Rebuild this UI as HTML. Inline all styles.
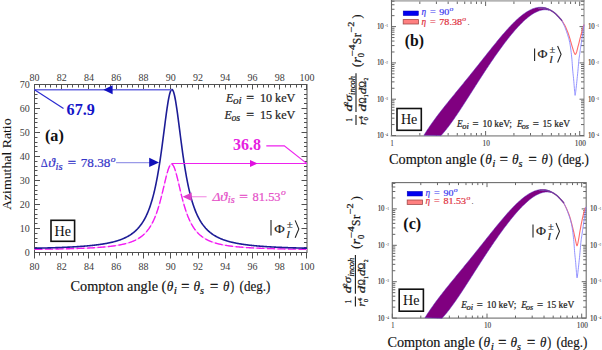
<!DOCTYPE html>
<html><head><meta charset="utf-8"><style>html,body{margin:0;padding:0;background:#fff;}svg{display:block}</style></head>
<body><svg width="602" height="350" viewBox="0 0 602 350">
<rect width="602" height="350" fill="#fff"/>
<rect x="34.5" y="84.5" width="272.5" height="168.0" fill="none" stroke="#505050" stroke-width="1"/>
<path d="M34.5,84.5v5M34.5,252.5v6M39.5,84.5v3M39.5,252.5v3M45.5,84.5v3M45.5,252.5v3M50.5,84.5v3M50.5,252.5v3M56.5,84.5v3M56.5,252.5v3M61.5,84.5v5M61.5,252.5v6M67.5,84.5v3M67.5,252.5v3M72.5,84.5v3M72.5,252.5v3M78.5,84.5v3M78.5,252.5v3M83.5,84.5v3M83.5,252.5v3M88.5,84.5v5M88.5,252.5v6M94.5,84.5v3M94.5,252.5v3M99.5,84.5v3M99.5,252.5v3M105.5,84.5v3M105.5,252.5v3M110.5,84.5v3M110.5,252.5v3M116.5,84.5v5M116.5,252.5v6M121.5,84.5v3M121.5,252.5v3M127.5,84.5v3M127.5,252.5v3M132.5,84.5v3M132.5,252.5v3M138.5,84.5v3M138.5,252.5v3M143.5,84.5v5M143.5,252.5v6M148.5,84.5v3M148.5,252.5v3M154.5,84.5v3M154.5,252.5v3M159.5,84.5v3M159.5,252.5v3M165.5,84.5v3M165.5,252.5v3M170.5,84.5v5M170.5,252.5v6M176.5,84.5v3M176.5,252.5v3M181.5,84.5v3M181.5,252.5v3M187.5,84.5v3M187.5,252.5v3M192.5,84.5v3M192.5,252.5v3M198.5,84.5v5M198.5,252.5v6M203.5,84.5v3M203.5,252.5v3M208.5,84.5v3M208.5,252.5v3M214.5,84.5v3M214.5,252.5v3M219.5,84.5v3M219.5,252.5v3M225.5,84.5v5M225.5,252.5v6M230.5,84.5v3M230.5,252.5v3M236.5,84.5v3M236.5,252.5v3M241.5,84.5v3M241.5,252.5v3M247.5,84.5v3M247.5,252.5v3M252.5,84.5v5M252.5,252.5v6M257.5,84.5v3M257.5,252.5v3M263.5,84.5v3M263.5,252.5v3M268.5,84.5v3M268.5,252.5v3M274.5,84.5v3M274.5,252.5v3M279.5,84.5v5M279.5,252.5v6M285.5,84.5v3M285.5,252.5v3M290.5,84.5v3M290.5,252.5v3M296.5,84.5v3M296.5,252.5v3M301.5,84.5v3M301.5,252.5v3M306.5,84.5v5M306.5,252.5v6M34.5,252.5h5.5M307.0,252.5h-5.5M34.5,247.5h3M307.0,247.5h-3M34.5,242.5h3M307.0,242.5h-3M34.5,238.5h3M307.0,238.5h-3M34.5,233.5h3M307.0,233.5h-3M34.5,228.5h5.5M307.0,228.5h-5.5M34.5,223.5h3M307.0,223.5h-3M34.5,218.5h3M307.0,218.5h-3M34.5,214.5h3M307.0,214.5h-3M34.5,209.5h3M307.0,209.5h-3M34.5,204.5h5.5M307.0,204.5h-5.5M34.5,199.5h3M307.0,199.5h-3M34.5,194.5h3M307.0,194.5h-3M34.5,190.5h3M307.0,190.5h-3M34.5,185.5h3M307.0,185.5h-3M34.5,180.5h5.5M307.0,180.5h-5.5M34.5,175.5h3M307.0,175.5h-3M34.5,170.5h3M307.0,170.5h-3M34.5,166.5h3M307.0,166.5h-3M34.5,161.5h3M307.0,161.5h-3M34.5,156.5h5.5M307.0,156.5h-5.5M34.5,151.5h3M307.0,151.5h-3M34.5,146.5h3M307.0,146.5h-3M34.5,142.5h3M307.0,142.5h-3M34.5,137.5h3M307.0,137.5h-3M34.5,132.5h5.5M307.0,132.5h-5.5M34.5,127.5h3M307.0,127.5h-3M34.5,122.5h3M307.0,122.5h-3M34.5,118.5h3M307.0,118.5h-3M34.5,113.5h3M307.0,113.5h-3M34.5,108.5h5.5M307.0,108.5h-5.5M34.5,103.5h3M307.0,103.5h-3M34.5,98.5h3M307.0,98.5h-3M34.5,94.5h3M307.0,94.5h-3M34.5,89.5h3M307.0,89.5h-3M34.5,84.5h5.5M307.0,84.5h-5.5" stroke="#505050" stroke-width="1" fill="none"/>
<text x="34.50" y="80.90" font-family="Liberation Serif" font-size="10" fill="#3c3c3c"  text-anchor="middle">80</text>
<text x="34.50" y="270.30" font-family="Liberation Serif" font-size="10" fill="#3c3c3c"  text-anchor="middle">80</text>
<text x="61.75" y="80.90" font-family="Liberation Serif" font-size="10" fill="#3c3c3c"  text-anchor="middle">82</text>
<text x="61.75" y="270.30" font-family="Liberation Serif" font-size="10" fill="#3c3c3c"  text-anchor="middle">82</text>
<text x="89.00" y="80.90" font-family="Liberation Serif" font-size="10" fill="#3c3c3c"  text-anchor="middle">84</text>
<text x="89.00" y="270.30" font-family="Liberation Serif" font-size="10" fill="#3c3c3c"  text-anchor="middle">84</text>
<text x="116.25" y="80.90" font-family="Liberation Serif" font-size="10" fill="#3c3c3c"  text-anchor="middle">86</text>
<text x="116.25" y="270.30" font-family="Liberation Serif" font-size="10" fill="#3c3c3c"  text-anchor="middle">86</text>
<text x="143.50" y="80.90" font-family="Liberation Serif" font-size="10" fill="#3c3c3c"  text-anchor="middle">88</text>
<text x="143.50" y="270.30" font-family="Liberation Serif" font-size="10" fill="#3c3c3c"  text-anchor="middle">88</text>
<text x="170.75" y="80.90" font-family="Liberation Serif" font-size="10" fill="#3c3c3c"  text-anchor="middle">90</text>
<text x="170.75" y="270.30" font-family="Liberation Serif" font-size="10" fill="#3c3c3c"  text-anchor="middle">90</text>
<text x="198.00" y="80.90" font-family="Liberation Serif" font-size="10" fill="#3c3c3c"  text-anchor="middle">92</text>
<text x="198.00" y="270.30" font-family="Liberation Serif" font-size="10" fill="#3c3c3c"  text-anchor="middle">92</text>
<text x="225.25" y="80.90" font-family="Liberation Serif" font-size="10" fill="#3c3c3c"  text-anchor="middle">94</text>
<text x="225.25" y="270.30" font-family="Liberation Serif" font-size="10" fill="#3c3c3c"  text-anchor="middle">94</text>
<text x="252.50" y="80.90" font-family="Liberation Serif" font-size="10" fill="#3c3c3c"  text-anchor="middle">96</text>
<text x="252.50" y="270.30" font-family="Liberation Serif" font-size="10" fill="#3c3c3c"  text-anchor="middle">96</text>
<text x="279.75" y="80.90" font-family="Liberation Serif" font-size="10" fill="#3c3c3c"  text-anchor="middle">98</text>
<text x="279.75" y="270.30" font-family="Liberation Serif" font-size="10" fill="#3c3c3c"  text-anchor="middle">98</text>
<text x="307.00" y="80.90" font-family="Liberation Serif" font-size="10" fill="#3c3c3c"  text-anchor="middle">100</text>
<text x="307.00" y="270.30" font-family="Liberation Serif" font-size="10" fill="#3c3c3c"  text-anchor="middle">100</text>
<text x="29.80" y="255.90" font-family="Liberation Serif" font-size="10" fill="#3c3c3c"  text-anchor="end">0</text>
<text x="29.80" y="231.90" font-family="Liberation Serif" font-size="10" fill="#3c3c3c"  text-anchor="end">10</text>
<text x="29.80" y="207.90" font-family="Liberation Serif" font-size="10" fill="#3c3c3c"  text-anchor="end">20</text>
<text x="29.80" y="183.90" font-family="Liberation Serif" font-size="10" fill="#3c3c3c"  text-anchor="end">30</text>
<text x="29.80" y="159.90" font-family="Liberation Serif" font-size="10" fill="#3c3c3c"  text-anchor="end">40</text>
<text x="29.80" y="135.90" font-family="Liberation Serif" font-size="10" fill="#3c3c3c"  text-anchor="end">50</text>
<text x="29.80" y="111.90" font-family="Liberation Serif" font-size="10" fill="#3c3c3c"  text-anchor="end">60</text>
<text x="29.80" y="87.90" font-family="Liberation Serif" font-size="10" fill="#3c3c3c"  text-anchor="end">70</text>
<path d="M34.50,249.32 L34.89,249.32 L35.28,249.31 L35.67,249.31 L36.06,249.30 L36.45,249.30 L36.84,249.30 L37.23,249.29 L37.62,249.29 L38.01,249.28 L38.40,249.28 L38.79,249.27 L39.18,249.27 L39.57,249.26 L39.96,249.26 L40.35,249.25 L40.74,249.25 L41.13,249.24 L41.52,249.24 L41.91,249.23 L42.30,249.23 L42.69,249.22 L43.08,249.22 L43.47,249.21 L43.86,249.21 L44.25,249.20 L44.64,249.19 L45.03,249.19 L45.42,249.18 L45.81,249.18 L46.20,249.17 L46.59,249.17 L46.97,249.16 L47.36,249.16 L47.75,249.15 L48.14,249.14 L48.53,249.14 L48.92,249.13 L49.31,249.13 L49.70,249.12 L50.09,249.11 L50.48,249.11 L50.87,249.10 L51.26,249.09 L51.65,249.09 L52.04,249.08 L52.43,249.07 L52.82,249.07 L53.21,249.06 L53.60,249.05 L53.99,249.05 L54.38,249.04 L54.77,249.03 L55.16,249.03 L55.55,249.02 L55.94,249.01 L56.33,249.00 L56.72,249.00 L57.11,248.99 L57.50,248.98 L57.89,248.97 L58.28,248.97 L58.67,248.96 L59.06,248.95 L59.45,248.94 L59.84,248.94 L60.23,248.93 L60.62,248.92 L61.01,248.91 L61.40,248.90 L61.79,248.89 L62.18,248.89 L62.57,248.88 L62.96,248.87 L63.35,248.86 L63.74,248.85 L64.13,248.84 L64.52,248.83 L64.91,248.82 L65.30,248.81 L65.69,248.81 L66.08,248.80 L66.47,248.79 L66.86,248.78 L67.25,248.77 L67.64,248.76 L68.03,248.75 L68.42,248.74 L68.81,248.73 L69.20,248.72 L69.59,248.71 L69.98,248.70 L70.37,248.68 L70.76,248.67 L71.15,248.66 L71.54,248.65 L71.92,248.64 L72.31,248.63 L72.70,248.62 L73.09,248.61 L73.48,248.60 L73.87,248.58 L74.26,248.57 L74.65,248.56 L75.04,248.55 L75.43,248.53 L75.82,248.52 L76.21,248.51 L76.60,248.50 L76.99,248.48 L77.38,248.47 L77.77,248.46 L78.16,248.44 L78.55,248.43 L78.94,248.42 L79.33,248.40 L79.72,248.39 L80.11,248.37 L80.50,248.36 L80.89,248.34 L81.28,248.33 L81.67,248.31 L82.06,248.30 L82.45,248.28 L82.84,248.27 L83.23,248.25 L83.62,248.24 L84.01,248.22 L84.40,248.20 L84.79,248.19 L85.18,248.17 L85.57,248.15 L85.96,248.14 L86.35,248.12 L86.74,248.10 L87.13,248.08 L87.52,248.06 L87.91,248.05 L88.30,248.03 L88.69,248.01 L89.08,247.99 L89.47,247.97 L89.86,247.95 L90.25,247.93 L90.64,247.91 L91.03,247.89 L91.42,247.87 L91.81,247.84 L92.20,247.82 L92.59,247.80 L92.98,247.78 L93.37,247.76 L93.76,247.73 L94.15,247.71 L94.54,247.69 L94.93,247.66 L95.32,247.64 L95.71,247.61 L96.10,247.59 L96.48,247.56 L96.87,247.54 L97.26,247.51 L97.65,247.49 L98.04,247.46 L98.43,247.43 L98.82,247.40 L99.21,247.38 L99.60,247.35 L99.99,247.32 L100.38,247.29 L100.77,247.26 L101.16,247.23 L101.55,247.20 L101.94,247.16 L102.33,247.13 L102.72,247.10 L103.11,247.07 L103.50,247.03 L103.89,247.00 L104.28,246.97 L104.67,246.93 L105.06,246.89 L105.45,246.86 L105.84,246.82 L106.23,246.78 L106.62,246.74 L107.01,246.71 L107.40,246.67 L107.79,246.63 L108.18,246.58 L108.57,246.54 L108.96,246.50 L109.35,246.46 L109.74,246.41 L110.13,246.37 L110.52,246.32 L110.91,246.28 L111.30,246.23 L111.69,246.18 L112.08,246.13 L112.47,246.08 L112.86,246.03 L113.25,245.98 L113.64,245.92 L114.03,245.87 L114.42,245.82 L114.81,245.76 L115.20,245.70 L115.59,245.64 L115.98,245.58 L116.37,245.52 L116.76,245.46 L117.15,245.40 L117.54,245.34 L117.93,245.27 L118.32,245.20 L118.71,245.13 L119.10,245.06 L119.49,244.99 L119.88,244.92 L120.27,244.85 L120.66,244.77 L121.05,244.69 L121.43,244.61 L121.82,244.53 L122.21,244.45 L122.60,244.37 L122.99,244.28 L123.38,244.19 L123.77,244.10 L124.16,244.01 L124.55,243.92 L124.94,243.82 L125.33,243.72 L125.72,243.62 L126.11,243.52 L126.50,243.41 L126.89,243.31 L127.28,243.20 L127.67,243.08 L128.06,242.97 L128.45,242.85 L128.84,242.73 L129.23,242.60 L129.62,242.48 L130.01,242.34 L130.40,242.21 L130.79,242.07 L131.18,241.93 L131.57,241.79 L131.96,241.64 L132.35,241.49 L132.74,241.33 L133.13,241.17 L133.52,241.01 L133.91,240.84 L134.30,240.67 L134.69,240.49 L135.08,240.31 L135.47,240.12 L135.86,239.92 L136.25,239.73 L136.64,239.52 L137.03,239.31 L137.42,239.10 L137.81,238.87 L138.20,238.65 L138.59,238.41 L138.98,238.17 L139.37,237.92 L139.76,237.66 L140.15,237.40 L140.54,237.13 L140.93,236.85 L141.32,236.56 L141.71,236.26 L142.10,235.95 L142.49,235.63 L142.88,235.31 L143.27,234.97 L143.66,234.62 L144.05,234.26 L144.44,233.89 L144.83,233.50 L145.22,233.11 L145.61,232.70 L145.99,232.28 L146.38,231.84 L146.77,231.39 L147.16,230.92 L147.55,230.44 L147.94,229.94 L148.33,229.42 L148.72,228.88 L149.11,228.33 L149.50,227.75 L149.89,227.16 L150.28,226.55 L150.67,225.91 L151.06,225.25 L151.45,224.57 L151.84,223.86 L152.23,223.13 L152.62,222.37 L153.01,221.59 L153.40,220.77 L153.79,219.93 L154.18,219.06 L154.57,218.16 L154.96,217.22 L155.35,216.25 L155.74,215.25 L156.13,214.22 L156.52,213.15 L156.91,212.04 L157.30,210.89 L157.69,209.71 L158.08,208.49 L158.47,207.24 L158.86,205.94 L159.25,204.61 L159.64,203.24 L160.03,201.83 L160.42,200.39 L160.81,198.91 L161.20,197.40 L161.59,195.86 L161.98,194.29 L162.37,192.69 L162.76,191.07 L163.15,189.43 L163.54,187.78 L163.93,186.12 L164.32,184.46 L164.71,182.81 L165.10,181.17 L165.49,179.54 L165.88,177.95 L166.27,176.40 L166.66,174.89 L167.05,173.44 L167.44,172.06 L167.83,170.76 L168.22,169.55 L168.61,168.45 L169.00,167.45 L169.39,166.57 L169.78,165.82 L170.17,165.20 L170.56,164.72 L170.94,164.39 L171.33,164.22 L171.72,164.19 L172.11,164.31 L172.50,164.59 L172.89,165.01 L173.28,165.58 L173.67,166.28 L174.06,167.12 L174.45,168.07 L174.84,169.14 L175.23,170.32 L175.62,171.58 L176.01,172.94 L176.40,174.36 L176.79,175.85 L177.18,177.38 L177.57,178.96 L177.96,180.58 L178.35,182.21 L178.74,183.87 L179.13,185.53 L179.52,187.18 L179.91,188.84 L180.30,190.48 L180.69,192.11 L181.08,193.71 L181.47,195.30 L181.86,196.85 L182.25,198.37 L182.64,199.86 L183.03,201.32 L183.42,202.74 L183.81,204.12 L184.20,205.47 L184.59,206.78 L184.98,208.05 L185.37,209.28 L185.76,210.47 L186.15,211.63 L186.54,212.75 L186.93,213.83 L187.32,214.88 L187.71,215.90 L188.10,216.88 L188.49,217.82 L188.88,218.74 L189.27,219.62 L189.66,220.47 L190.05,221.30 L190.44,222.09 L190.83,222.86 L191.22,223.60 L191.61,224.32 L192.00,225.01 L192.39,225.68 L192.78,226.32 L193.17,226.94 L193.56,227.54 L193.95,228.12 L194.34,228.68 L194.73,229.23 L195.12,229.75 L195.51,230.26 L195.89,230.75 L196.28,231.22 L196.67,231.68 L197.06,232.12 L197.45,232.55 L197.84,232.96 L198.23,233.36 L198.62,233.75 L199.01,234.13 L199.40,234.49 L199.79,234.84 L200.18,235.19 L200.57,235.52 L200.96,235.84 L201.35,236.15 L201.74,236.45 L202.13,236.74 L202.52,237.03 L202.91,237.30 L203.30,237.57 L203.69,237.83 L204.08,238.08 L204.47,238.32 L204.86,238.56 L205.25,238.79 L205.64,239.02 L206.03,239.24 L206.42,239.45 L206.81,239.65 L207.20,239.85 L207.59,240.05 L207.98,240.24 L208.37,240.42 L208.76,240.60 L209.15,240.78 L209.54,240.95 L209.93,241.11 L210.32,241.27 L210.71,241.43 L211.10,241.59 L211.49,241.74 L211.88,241.88 L212.27,242.02 L212.66,242.16 L213.05,242.30 L213.44,242.43 L213.83,242.56 L214.22,242.68 L214.61,242.81 L215.00,242.92 L215.39,243.04 L215.78,243.16 L216.17,243.27 L216.56,243.38 L216.95,243.48 L217.34,243.59 L217.73,243.69 L218.12,243.79 L218.51,243.88 L218.90,243.98 L219.29,244.07 L219.68,244.16 L220.07,244.25 L220.45,244.34 L220.84,244.42 L221.23,244.50 L221.62,244.59 L222.01,244.67 L222.40,244.74 L222.79,244.82 L223.18,244.89 L223.57,244.97 L223.96,245.04 L224.35,245.11 L224.74,245.18 L225.13,245.25 L225.52,245.31 L225.91,245.38 L226.30,245.44 L226.69,245.50 L227.08,245.56 L227.47,245.62 L227.86,245.68 L228.25,245.74 L228.64,245.80 L229.03,245.85 L229.42,245.91 L229.81,245.96 L230.20,246.01 L230.59,246.06 L230.98,246.11 L231.37,246.16 L231.76,246.21 L232.15,246.26 L232.54,246.30 L232.93,246.35 L233.32,246.40 L233.71,246.44 L234.10,246.48 L234.49,246.53 L234.88,246.57 L235.27,246.61 L235.66,246.65 L236.05,246.69 L236.44,246.73 L236.83,246.77 L237.22,246.81 L237.61,246.84 L238.00,246.88 L238.39,246.92 L238.78,246.95 L239.17,246.99 L239.56,247.02 L239.95,247.06 L240.34,247.09 L240.73,247.12 L241.12,247.15 L241.51,247.19 L241.90,247.22 L242.29,247.25 L242.68,247.28 L243.07,247.31 L243.46,247.34 L243.85,247.36 L244.24,247.39 L244.63,247.42 L245.02,247.45 L245.40,247.48 L245.79,247.50 L246.18,247.53 L246.57,247.55 L246.96,247.58 L247.35,247.61 L247.74,247.63 L248.13,247.65 L248.52,247.68 L248.91,247.70 L249.30,247.73 L249.69,247.75 L250.08,247.77 L250.47,247.79 L250.86,247.82 L251.25,247.84 L251.64,247.86 L252.03,247.88 L252.42,247.90 L252.81,247.92 L253.20,247.94 L253.59,247.96 L253.98,247.98 L254.37,248.00 L254.76,248.02 L255.15,248.04 L255.54,248.06 L255.93,248.08 L256.32,248.09 L256.71,248.11 L257.10,248.13 L257.49,248.15 L257.88,248.16 L258.27,248.18 L258.66,248.20 L259.05,248.21 L259.44,248.23 L259.83,248.25 L260.22,248.26 L260.61,248.28 L261.00,248.29 L261.39,248.31 L261.78,248.32 L262.17,248.34 L262.56,248.35 L262.95,248.37 L263.34,248.38 L263.73,248.40 L264.12,248.41 L264.51,248.43 L264.90,248.44 L265.29,248.45 L265.68,248.47 L266.07,248.48 L266.46,248.49 L266.85,248.50 L267.24,248.52 L267.63,248.53 L268.02,248.54 L268.41,248.55 L268.80,248.57 L269.19,248.58 L269.58,248.59 L269.96,248.60 L270.35,248.61 L270.74,248.63 L271.13,248.64 L271.52,248.65 L271.91,248.66 L272.30,248.67 L272.69,248.68 L273.08,248.69 L273.47,248.70 L273.86,248.71 L274.25,248.72 L274.64,248.73 L275.03,248.74 L275.42,248.75 L275.81,248.76 L276.20,248.77 L276.59,248.78 L276.98,248.79 L277.37,248.80 L277.76,248.81 L278.15,248.82 L278.54,248.83 L278.93,248.84 L279.32,248.85 L279.71,248.86 L280.10,248.87 L280.49,248.87 L280.88,248.88 L281.27,248.89 L281.66,248.90 L282.05,248.91 L282.44,248.92 L282.83,248.92 L283.22,248.93 L283.61,248.94 L284.00,248.95 L284.39,248.96 L284.78,248.96 L285.17,248.97 L285.56,248.98 L285.95,248.99 L286.34,248.99 L286.73,249.00 L287.12,249.01 L287.51,249.02 L287.90,249.02 L288.29,249.03 L288.68,249.04 L289.07,249.04 L289.46,249.05 L289.85,249.06 L290.24,249.07 L290.63,249.07 L291.02,249.08 L291.41,249.08 L291.80,249.09 L292.19,249.10 L292.58,249.10 L292.97,249.11 L293.36,249.12 L293.75,249.12 L294.14,249.13 L294.53,249.14 L294.91,249.14 L295.30,249.15 L295.69,249.15 L296.08,249.16 L296.47,249.16 L296.86,249.17 L297.25,249.18 L297.64,249.18 L298.03,249.19 L298.42,249.19 L298.81,249.20 L299.20,249.20 L299.59,249.21 L299.98,249.21 L300.37,249.22 L300.76,249.23 L301.15,249.23 L301.54,249.24 L301.93,249.24 L302.32,249.25 L302.71,249.25 L303.10,249.26 L303.49,249.26 L303.88,249.27 L304.27,249.27 L304.66,249.28 L305.05,249.28 L305.44,249.28 L305.83,249.29 L306.22,249.29 L306.61,249.30 L307.00,249.30" fill="none" stroke="#ffbcff" stroke-width="1.2"/>
<path d="M34.50,249.32 L34.89,249.32 L35.28,249.31 L35.67,249.31 L36.06,249.30 L36.45,249.30 L36.84,249.30 L37.23,249.29 L37.62,249.29 L38.01,249.28 L38.40,249.28 L38.79,249.27 L39.18,249.27 L39.57,249.26 L39.96,249.26 L40.35,249.25 L40.74,249.25 L41.13,249.24 L41.52,249.24 L41.91,249.23 L42.30,249.23 L42.69,249.22 L43.08,249.22 L43.47,249.21 L43.86,249.21 L44.25,249.20 L44.64,249.19 L45.03,249.19 L45.42,249.18 L45.81,249.18 L46.20,249.17 L46.59,249.17 L46.97,249.16 L47.36,249.16 L47.75,249.15 L48.14,249.14 L48.53,249.14 L48.92,249.13 L49.31,249.13 L49.70,249.12 L50.09,249.11 L50.48,249.11 L50.87,249.10 L51.26,249.09 L51.65,249.09 L52.04,249.08 L52.43,249.07 L52.82,249.07 L53.21,249.06 L53.60,249.05 L53.99,249.05 L54.38,249.04 L54.77,249.03 L55.16,249.03 L55.55,249.02 L55.94,249.01 L56.33,249.00 L56.72,249.00 L57.11,248.99 L57.50,248.98 L57.89,248.97 L58.28,248.97 L58.67,248.96 L59.06,248.95 L59.45,248.94 L59.84,248.94 L60.23,248.93 L60.62,248.92 L61.01,248.91 L61.40,248.90 L61.79,248.89 L62.18,248.89 L62.57,248.88 L62.96,248.87 L63.35,248.86 L63.74,248.85 L64.13,248.84 L64.52,248.83 L64.91,248.82 L65.30,248.81 L65.69,248.81 L66.08,248.80 L66.47,248.79 L66.86,248.78 L67.25,248.77 L67.64,248.76 L68.03,248.75 L68.42,248.74 L68.81,248.73 L69.20,248.72 L69.59,248.71 L69.98,248.70 L70.37,248.68 L70.76,248.67 L71.15,248.66 L71.54,248.65 L71.92,248.64 L72.31,248.63 L72.70,248.62 L73.09,248.61 L73.48,248.60 L73.87,248.58 L74.26,248.57 L74.65,248.56 L75.04,248.55 L75.43,248.53 L75.82,248.52 L76.21,248.51 L76.60,248.50 L76.99,248.48 L77.38,248.47 L77.77,248.46 L78.16,248.44 L78.55,248.43 L78.94,248.42 L79.33,248.40 L79.72,248.39 L80.11,248.37 L80.50,248.36 L80.89,248.34 L81.28,248.33 L81.67,248.31 L82.06,248.30 L82.45,248.28 L82.84,248.27 L83.23,248.25 L83.62,248.24 L84.01,248.22 L84.40,248.20 L84.79,248.19 L85.18,248.17 L85.57,248.15 L85.96,248.14 L86.35,248.12 L86.74,248.10 L87.13,248.08 L87.52,248.06 L87.91,248.05 L88.30,248.03 L88.69,248.01 L89.08,247.99 L89.47,247.97 L89.86,247.95 L90.25,247.93 L90.64,247.91 L91.03,247.89 L91.42,247.87 L91.81,247.84 L92.20,247.82 L92.59,247.80 L92.98,247.78 L93.37,247.76 L93.76,247.73 L94.15,247.71 L94.54,247.69 L94.93,247.66 L95.32,247.64 L95.71,247.61 L96.10,247.59 L96.48,247.56 L96.87,247.54 L97.26,247.51 L97.65,247.49 L98.04,247.46 L98.43,247.43 L98.82,247.40 L99.21,247.38 L99.60,247.35 L99.99,247.32 L100.38,247.29 L100.77,247.26 L101.16,247.23 L101.55,247.20 L101.94,247.16 L102.33,247.13 L102.72,247.10 L103.11,247.07 L103.50,247.03 L103.89,247.00 L104.28,246.97 L104.67,246.93 L105.06,246.89 L105.45,246.86 L105.84,246.82 L106.23,246.78 L106.62,246.74 L107.01,246.71 L107.40,246.67 L107.79,246.63 L108.18,246.58 L108.57,246.54 L108.96,246.50 L109.35,246.46 L109.74,246.41 L110.13,246.37 L110.52,246.32 L110.91,246.28 L111.30,246.23 L111.69,246.18 L112.08,246.13 L112.47,246.08 L112.86,246.03 L113.25,245.98 L113.64,245.92 L114.03,245.87 L114.42,245.82 L114.81,245.76 L115.20,245.70 L115.59,245.64 L115.98,245.58 L116.37,245.52 L116.76,245.46 L117.15,245.40 L117.54,245.34 L117.93,245.27 L118.32,245.20 L118.71,245.13 L119.10,245.06 L119.49,244.99 L119.88,244.92 L120.27,244.85 L120.66,244.77 L121.05,244.69 L121.43,244.61 L121.82,244.53 L122.21,244.45 L122.60,244.37 L122.99,244.28 L123.38,244.19 L123.77,244.10 L124.16,244.01 L124.55,243.92 L124.94,243.82 L125.33,243.72 L125.72,243.62 L126.11,243.52 L126.50,243.41 L126.89,243.31 L127.28,243.20 L127.67,243.08 L128.06,242.97 L128.45,242.85 L128.84,242.73 L129.23,242.60 L129.62,242.48 L130.01,242.34 L130.40,242.21 L130.79,242.07 L131.18,241.93 L131.57,241.79 L131.96,241.64 L132.35,241.49 L132.74,241.33 L133.13,241.17 L133.52,241.01 L133.91,240.84 L134.30,240.67 L134.69,240.49 L135.08,240.31 L135.47,240.12 L135.86,239.92 L136.25,239.73 L136.64,239.52 L137.03,239.31 L137.42,239.10 L137.81,238.87 L138.20,238.65 L138.59,238.41 L138.98,238.17 L139.37,237.92 L139.76,237.66 L140.15,237.40 L140.54,237.13 L140.93,236.85 L141.32,236.56 L141.71,236.26 L142.10,235.95 L142.49,235.63 L142.88,235.31 L143.27,234.97 L143.66,234.62 L144.05,234.26 L144.44,233.89 L144.83,233.50 L145.22,233.11 L145.61,232.70 L145.99,232.28 L146.38,231.84 L146.77,231.39 L147.16,230.92 L147.55,230.44 L147.94,229.94 L148.33,229.42 L148.72,228.88 L149.11,228.33 L149.50,227.75 L149.89,227.16 L150.28,226.55 L150.67,225.91 L151.06,225.25 L151.45,224.57 L151.84,223.86 L152.23,223.13 L152.62,222.37 L153.01,221.59 L153.40,220.77 L153.79,219.93 L154.18,219.06 L154.57,218.16 L154.96,217.22 L155.35,216.25 L155.74,215.25 L156.13,214.22 L156.52,213.15 L156.91,212.04 L157.30,210.89 L157.69,209.71 L158.08,208.49 L158.47,207.24 L158.86,205.94 L159.25,204.61 L159.64,203.24 L160.03,201.83 L160.42,200.39 L160.81,198.91 L161.20,197.40 L161.59,195.86 L161.98,194.29 L162.37,192.69 L162.76,191.07 L163.15,189.43 L163.54,187.78 L163.93,186.12 L164.32,184.46 L164.71,182.81 L165.10,181.17 L165.49,179.54 L165.88,177.95 L166.27,176.40 L166.66,174.89 L167.05,173.44 L167.44,172.06 L167.83,170.76 L168.22,169.55 L168.61,168.45 L169.00,167.45 L169.39,166.57 L169.78,165.82 L170.17,165.20 L170.56,164.72 L170.94,164.39 L171.33,164.22 L171.72,164.19 L172.11,164.31 L172.50,164.59 L172.89,165.01 L173.28,165.58 L173.67,166.28 L174.06,167.12 L174.45,168.07 L174.84,169.14 L175.23,170.32 L175.62,171.58 L176.01,172.94 L176.40,174.36 L176.79,175.85 L177.18,177.38 L177.57,178.96 L177.96,180.58 L178.35,182.21 L178.74,183.87 L179.13,185.53 L179.52,187.18 L179.91,188.84 L180.30,190.48 L180.69,192.11 L181.08,193.71 L181.47,195.30 L181.86,196.85 L182.25,198.37 L182.64,199.86 L183.03,201.32 L183.42,202.74 L183.81,204.12 L184.20,205.47 L184.59,206.78 L184.98,208.05 L185.37,209.28 L185.76,210.47 L186.15,211.63 L186.54,212.75 L186.93,213.83 L187.32,214.88 L187.71,215.90 L188.10,216.88 L188.49,217.82 L188.88,218.74 L189.27,219.62 L189.66,220.47 L190.05,221.30 L190.44,222.09 L190.83,222.86 L191.22,223.60 L191.61,224.32 L192.00,225.01 L192.39,225.68 L192.78,226.32 L193.17,226.94 L193.56,227.54 L193.95,228.12 L194.34,228.68 L194.73,229.23 L195.12,229.75 L195.51,230.26 L195.89,230.75 L196.28,231.22 L196.67,231.68 L197.06,232.12 L197.45,232.55 L197.84,232.96 L198.23,233.36 L198.62,233.75 L199.01,234.13 L199.40,234.49 L199.79,234.84 L200.18,235.19 L200.57,235.52 L200.96,235.84 L201.35,236.15 L201.74,236.45 L202.13,236.74 L202.52,237.03 L202.91,237.30 L203.30,237.57 L203.69,237.83 L204.08,238.08 L204.47,238.32 L204.86,238.56 L205.25,238.79 L205.64,239.02 L206.03,239.24 L206.42,239.45 L206.81,239.65 L207.20,239.85 L207.59,240.05 L207.98,240.24 L208.37,240.42 L208.76,240.60 L209.15,240.78 L209.54,240.95 L209.93,241.11 L210.32,241.27 L210.71,241.43 L211.10,241.59 L211.49,241.74 L211.88,241.88 L212.27,242.02 L212.66,242.16 L213.05,242.30 L213.44,242.43 L213.83,242.56 L214.22,242.68 L214.61,242.81 L215.00,242.92 L215.39,243.04 L215.78,243.16 L216.17,243.27 L216.56,243.38 L216.95,243.48 L217.34,243.59 L217.73,243.69 L218.12,243.79 L218.51,243.88 L218.90,243.98 L219.29,244.07 L219.68,244.16 L220.07,244.25 L220.45,244.34 L220.84,244.42 L221.23,244.50 L221.62,244.59 L222.01,244.67 L222.40,244.74 L222.79,244.82 L223.18,244.89 L223.57,244.97 L223.96,245.04 L224.35,245.11 L224.74,245.18 L225.13,245.25 L225.52,245.31 L225.91,245.38 L226.30,245.44 L226.69,245.50 L227.08,245.56 L227.47,245.62 L227.86,245.68 L228.25,245.74 L228.64,245.80 L229.03,245.85 L229.42,245.91 L229.81,245.96 L230.20,246.01 L230.59,246.06 L230.98,246.11 L231.37,246.16 L231.76,246.21 L232.15,246.26 L232.54,246.30 L232.93,246.35 L233.32,246.40 L233.71,246.44 L234.10,246.48 L234.49,246.53 L234.88,246.57 L235.27,246.61 L235.66,246.65 L236.05,246.69 L236.44,246.73 L236.83,246.77 L237.22,246.81 L237.61,246.84 L238.00,246.88 L238.39,246.92 L238.78,246.95 L239.17,246.99 L239.56,247.02 L239.95,247.06 L240.34,247.09 L240.73,247.12 L241.12,247.15 L241.51,247.19 L241.90,247.22 L242.29,247.25 L242.68,247.28 L243.07,247.31 L243.46,247.34 L243.85,247.36 L244.24,247.39 L244.63,247.42 L245.02,247.45 L245.40,247.48 L245.79,247.50 L246.18,247.53 L246.57,247.55 L246.96,247.58 L247.35,247.61 L247.74,247.63 L248.13,247.65 L248.52,247.68 L248.91,247.70 L249.30,247.73 L249.69,247.75 L250.08,247.77 L250.47,247.79 L250.86,247.82 L251.25,247.84 L251.64,247.86 L252.03,247.88 L252.42,247.90 L252.81,247.92 L253.20,247.94 L253.59,247.96 L253.98,247.98 L254.37,248.00 L254.76,248.02 L255.15,248.04 L255.54,248.06 L255.93,248.08 L256.32,248.09 L256.71,248.11 L257.10,248.13 L257.49,248.15 L257.88,248.16 L258.27,248.18 L258.66,248.20 L259.05,248.21 L259.44,248.23 L259.83,248.25 L260.22,248.26 L260.61,248.28 L261.00,248.29 L261.39,248.31 L261.78,248.32 L262.17,248.34 L262.56,248.35 L262.95,248.37 L263.34,248.38 L263.73,248.40 L264.12,248.41 L264.51,248.43 L264.90,248.44 L265.29,248.45 L265.68,248.47 L266.07,248.48 L266.46,248.49 L266.85,248.50 L267.24,248.52 L267.63,248.53 L268.02,248.54 L268.41,248.55 L268.80,248.57 L269.19,248.58 L269.58,248.59 L269.96,248.60 L270.35,248.61 L270.74,248.63 L271.13,248.64 L271.52,248.65 L271.91,248.66 L272.30,248.67 L272.69,248.68 L273.08,248.69 L273.47,248.70 L273.86,248.71 L274.25,248.72 L274.64,248.73 L275.03,248.74 L275.42,248.75 L275.81,248.76 L276.20,248.77 L276.59,248.78 L276.98,248.79 L277.37,248.80 L277.76,248.81 L278.15,248.82 L278.54,248.83 L278.93,248.84 L279.32,248.85 L279.71,248.86 L280.10,248.87 L280.49,248.87 L280.88,248.88 L281.27,248.89 L281.66,248.90 L282.05,248.91 L282.44,248.92 L282.83,248.92 L283.22,248.93 L283.61,248.94 L284.00,248.95 L284.39,248.96 L284.78,248.96 L285.17,248.97 L285.56,248.98 L285.95,248.99 L286.34,248.99 L286.73,249.00 L287.12,249.01 L287.51,249.02 L287.90,249.02 L288.29,249.03 L288.68,249.04 L289.07,249.04 L289.46,249.05 L289.85,249.06 L290.24,249.07 L290.63,249.07 L291.02,249.08 L291.41,249.08 L291.80,249.09 L292.19,249.10 L292.58,249.10 L292.97,249.11 L293.36,249.12 L293.75,249.12 L294.14,249.13 L294.53,249.14 L294.91,249.14 L295.30,249.15 L295.69,249.15 L296.08,249.16 L296.47,249.16 L296.86,249.17 L297.25,249.18 L297.64,249.18 L298.03,249.19 L298.42,249.19 L298.81,249.20 L299.20,249.20 L299.59,249.21 L299.98,249.21 L300.37,249.22 L300.76,249.23 L301.15,249.23 L301.54,249.24 L301.93,249.24 L302.32,249.25 L302.71,249.25 L303.10,249.26 L303.49,249.26 L303.88,249.27 L304.27,249.27 L304.66,249.28 L305.05,249.28 L305.44,249.28 L305.83,249.29 L306.22,249.29 L306.61,249.30 L307.00,249.30" fill="none" stroke="#f21cf2" stroke-width="1.35" stroke-dasharray="8,2.5"/>
<path d="M34.50,248.25 L34.89,248.24 L35.28,248.24 L35.67,248.23 L36.06,248.22 L36.45,248.21 L36.84,248.20 L37.23,248.19 L37.62,248.18 L38.01,248.17 L38.40,248.17 L38.79,248.16 L39.18,248.15 L39.57,248.14 L39.96,248.13 L40.35,248.12 L40.74,248.11 L41.13,248.10 L41.52,248.09 L41.91,248.08 L42.30,248.07 L42.69,248.06 L43.08,248.05 L43.47,248.04 L43.86,248.03 L44.25,248.02 L44.64,248.01 L45.03,248.00 L45.42,247.99 L45.81,247.98 L46.20,247.97 L46.59,247.96 L46.97,247.94 L47.36,247.93 L47.75,247.92 L48.14,247.91 L48.53,247.90 L48.92,247.89 L49.31,247.88 L49.70,247.86 L50.09,247.85 L50.48,247.84 L50.87,247.83 L51.26,247.82 L51.65,247.80 L52.04,247.79 L52.43,247.78 L52.82,247.77 L53.21,247.75 L53.60,247.74 L53.99,247.73 L54.38,247.71 L54.77,247.70 L55.16,247.69 L55.55,247.67 L55.94,247.66 L56.33,247.65 L56.72,247.63 L57.11,247.62 L57.50,247.60 L57.89,247.59 L58.28,247.57 L58.67,247.56 L59.06,247.54 L59.45,247.53 L59.84,247.51 L60.23,247.50 L60.62,247.48 L61.01,247.47 L61.40,247.45 L61.79,247.44 L62.18,247.42 L62.57,247.40 L62.96,247.39 L63.35,247.37 L63.74,247.35 L64.13,247.34 L64.52,247.32 L64.91,247.30 L65.30,247.28 L65.69,247.27 L66.08,247.25 L66.47,247.23 L66.86,247.21 L67.25,247.19 L67.64,247.17 L68.03,247.16 L68.42,247.14 L68.81,247.12 L69.20,247.10 L69.59,247.08 L69.98,247.06 L70.37,247.04 L70.76,247.02 L71.15,247.00 L71.54,246.98 L71.92,246.95 L72.31,246.93 L72.70,246.91 L73.09,246.89 L73.48,246.87 L73.87,246.84 L74.26,246.82 L74.65,246.80 L75.04,246.78 L75.43,246.75 L75.82,246.73 L76.21,246.70 L76.60,246.68 L76.99,246.65 L77.38,246.63 L77.77,246.60 L78.16,246.58 L78.55,246.55 L78.94,246.53 L79.33,246.50 L79.72,246.47 L80.11,246.45 L80.50,246.42 L80.89,246.39 L81.28,246.36 L81.67,246.33 L82.06,246.30 L82.45,246.27 L82.84,246.25 L83.23,246.22 L83.62,246.18 L84.01,246.15 L84.40,246.12 L84.79,246.09 L85.18,246.06 L85.57,246.03 L85.96,245.99 L86.35,245.96 L86.74,245.93 L87.13,245.89 L87.52,245.86 L87.91,245.82 L88.30,245.79 L88.69,245.75 L89.08,245.71 L89.47,245.68 L89.86,245.64 L90.25,245.60 L90.64,245.56 L91.03,245.52 L91.42,245.48 L91.81,245.44 L92.20,245.40 L92.59,245.36 L92.98,245.32 L93.37,245.27 L93.76,245.23 L94.15,245.19 L94.54,245.14 L94.93,245.10 L95.32,245.05 L95.71,245.00 L96.10,244.96 L96.48,244.91 L96.87,244.86 L97.26,244.81 L97.65,244.76 L98.04,244.71 L98.43,244.66 L98.82,244.60 L99.21,244.55 L99.60,244.50 L99.99,244.44 L100.38,244.38 L100.77,244.33 L101.16,244.27 L101.55,244.21 L101.94,244.15 L102.33,244.09 L102.72,244.03 L103.11,243.97 L103.50,243.90 L103.89,243.84 L104.28,243.77 L104.67,243.71 L105.06,243.64 L105.45,243.57 L105.84,243.50 L106.23,243.43 L106.62,243.36 L107.01,243.28 L107.40,243.21 L107.79,243.13 L108.18,243.05 L108.57,242.97 L108.96,242.89 L109.35,242.81 L109.74,242.73 L110.13,242.64 L110.52,242.56 L110.91,242.47 L111.30,242.38 L111.69,242.29 L112.08,242.19 L112.47,242.10 L112.86,242.00 L113.25,241.91 L113.64,241.81 L114.03,241.70 L114.42,241.60 L114.81,241.49 L115.20,241.39 L115.59,241.28 L115.98,241.16 L116.37,241.05 L116.76,240.93 L117.15,240.81 L117.54,240.69 L117.93,240.57 L118.32,240.44 L118.71,240.31 L119.10,240.18 L119.49,240.05 L119.88,239.91 L120.27,239.77 L120.66,239.63 L121.05,239.48 L121.43,239.34 L121.82,239.18 L122.21,239.03 L122.60,238.87 L122.99,238.71 L123.38,238.54 L123.77,238.37 L124.16,238.20 L124.55,238.02 L124.94,237.84 L125.33,237.66 L125.72,237.47 L126.11,237.27 L126.50,237.08 L126.89,236.87 L127.28,236.67 L127.67,236.45 L128.06,236.24 L128.45,236.01 L128.84,235.79 L129.23,235.55 L129.62,235.31 L130.01,235.07 L130.40,234.82 L130.79,234.56 L131.18,234.30 L131.57,234.03 L131.96,233.75 L132.35,233.46 L132.74,233.17 L133.13,232.87 L133.52,232.56 L133.91,232.25 L134.30,231.93 L134.69,231.59 L135.08,231.25 L135.47,230.90 L135.86,230.54 L136.25,230.17 L136.64,229.79 L137.03,229.40 L137.42,228.99 L137.81,228.58 L138.20,228.15 L138.59,227.71 L138.98,227.26 L139.37,226.80 L139.76,226.32 L140.15,225.83 L140.54,225.32 L140.93,224.80 L141.32,224.26 L141.71,223.71 L142.10,223.14 L142.49,222.55 L142.88,221.94 L143.27,221.31 L143.66,220.66 L144.05,220.00 L144.44,219.31 L144.83,218.60 L145.22,217.86 L145.61,217.10 L145.99,216.32 L146.38,215.51 L146.77,214.68 L147.16,213.81 L147.55,212.92 L147.94,212.00 L148.33,211.04 L148.72,210.05 L149.11,209.03 L149.50,207.97 L149.89,206.88 L150.28,205.75 L150.67,204.58 L151.06,203.37 L151.45,202.11 L151.84,200.81 L152.23,199.47 L152.62,198.08 L153.01,196.64 L153.40,195.15 L153.79,193.60 L154.18,192.01 L154.57,190.35 L154.96,188.64 L155.35,186.87 L155.74,185.04 L156.13,183.15 L156.52,181.19 L156.91,179.17 L157.30,177.09 L157.69,174.93 L158.08,172.71 L158.47,170.42 L158.86,168.06 L159.25,165.63 L159.64,163.14 L160.03,160.57 L160.42,157.94 L160.81,155.25 L161.20,152.49 L161.59,149.68 L161.98,146.82 L162.37,143.90 L162.76,140.94 L163.15,137.95 L163.54,134.93 L163.93,131.89 L164.32,128.84 L164.71,125.79 L165.10,122.76 L165.49,119.76 L165.88,116.80 L166.27,113.91 L166.66,111.09 L167.05,108.37 L167.44,105.76 L167.83,103.28 L168.22,100.96 L168.61,98.80 L169.00,96.83 L169.39,95.07 L169.78,93.53 L170.17,92.22 L170.56,91.16 L170.94,90.36 L171.33,89.83 L171.72,89.57 L172.11,89.58 L172.50,89.87 L172.89,90.43 L173.28,91.26 L173.67,92.34 L174.06,93.67 L174.45,95.24 L174.84,97.02 L175.23,99.01 L175.62,101.18 L176.01,103.52 L176.40,106.01 L176.79,108.63 L177.18,111.37 L177.57,114.19 L177.96,117.10 L178.35,120.06 L178.74,123.06 L179.13,126.09 L179.52,129.14 L179.91,132.19 L180.30,135.23 L180.69,138.25 L181.08,141.24 L181.47,144.19 L181.86,147.10 L182.25,149.97 L182.64,152.77 L183.03,155.52 L183.42,158.21 L183.81,160.83 L184.20,163.39 L184.59,165.88 L184.98,168.30 L185.37,170.65 L185.76,172.94 L186.15,175.15 L186.54,177.30 L186.93,179.38 L187.32,181.39 L187.71,183.34 L188.10,185.23 L188.49,187.05 L188.88,188.82 L189.27,190.52 L189.66,192.17 L190.05,193.76 L190.44,195.30 L190.83,196.78 L191.22,198.22 L191.61,199.61 L192.00,200.95 L192.39,202.24 L192.78,203.49 L193.17,204.70 L193.56,205.86 L193.95,206.99 L194.34,208.08 L194.73,209.13 L195.12,210.15 L195.51,211.14 L195.89,212.09 L196.28,213.01 L196.67,213.90 L197.06,214.76 L197.45,215.59 L197.84,216.40 L198.23,217.18 L198.62,217.94 L199.01,218.67 L199.40,219.38 L199.79,220.06 L200.18,220.73 L200.57,221.37 L200.96,222.00 L201.35,222.61 L201.74,223.19 L202.13,223.76 L202.52,224.32 L202.91,224.85 L203.30,225.37 L203.69,225.88 L204.08,226.37 L204.47,226.85 L204.86,227.31 L205.25,227.76 L205.64,228.20 L206.03,228.62 L206.42,229.03 L206.81,229.44 L207.20,229.83 L207.59,230.21 L207.98,230.58 L208.37,230.94 L208.76,231.29 L209.15,231.63 L209.54,231.96 L209.93,232.28 L210.32,232.60 L210.71,232.90 L211.10,233.20 L211.49,233.49 L211.88,233.78 L212.27,234.05 L212.66,234.32 L213.05,234.59 L213.44,234.84 L213.83,235.09 L214.22,235.34 L214.61,235.58 L215.00,235.81 L215.39,236.04 L215.78,236.26 L216.17,236.48 L216.56,236.69 L216.95,236.89 L217.34,237.10 L217.73,237.29 L218.12,237.49 L218.51,237.68 L218.90,237.86 L219.29,238.04 L219.68,238.22 L220.07,238.39 L220.45,238.56 L220.84,238.72 L221.23,238.89 L221.62,239.04 L222.01,239.20 L222.40,239.35 L222.79,239.50 L223.18,239.64 L223.57,239.79 L223.96,239.93 L224.35,240.06 L224.74,240.20 L225.13,240.33 L225.52,240.46 L225.91,240.58 L226.30,240.71 L226.69,240.83 L227.08,240.94 L227.47,241.06 L227.86,241.18 L228.25,241.29 L228.64,241.40 L229.03,241.50 L229.42,241.61 L229.81,241.71 L230.20,241.82 L230.59,241.92 L230.98,242.01 L231.37,242.11 L231.76,242.20 L232.15,242.30 L232.54,242.39 L232.93,242.48 L233.32,242.56 L233.71,242.65 L234.10,242.74 L234.49,242.82 L234.88,242.90 L235.27,242.98 L235.66,243.06 L236.05,243.14 L236.44,243.21 L236.83,243.29 L237.22,243.36 L237.61,243.43 L238.00,243.51 L238.39,243.58 L238.78,243.65 L239.17,243.71 L239.56,243.78 L239.95,243.85 L240.34,243.91 L240.73,243.97 L241.12,244.04 L241.51,244.10 L241.90,244.16 L242.29,244.22 L242.68,244.28 L243.07,244.33 L243.46,244.39 L243.85,244.45 L244.24,244.50 L244.63,244.56 L245.02,244.61 L245.40,244.66 L245.79,244.71 L246.18,244.76 L246.57,244.81 L246.96,244.86 L247.35,244.91 L247.74,244.96 L248.13,245.01 L248.52,245.05 L248.91,245.10 L249.30,245.15 L249.69,245.19 L250.08,245.23 L250.47,245.28 L250.86,245.32 L251.25,245.36 L251.64,245.40 L252.03,245.45 L252.42,245.49 L252.81,245.53 L253.20,245.56 L253.59,245.60 L253.98,245.64 L254.37,245.68 L254.76,245.72 L255.15,245.75 L255.54,245.79 L255.93,245.82 L256.32,245.86 L256.71,245.89 L257.10,245.93 L257.49,245.96 L257.88,246.00 L258.27,246.03 L258.66,246.06 L259.05,246.09 L259.44,246.13 L259.83,246.16 L260.22,246.19 L260.61,246.22 L261.00,246.25 L261.39,246.28 L261.78,246.31 L262.17,246.34 L262.56,246.36 L262.95,246.39 L263.34,246.42 L263.73,246.45 L264.12,246.48 L264.51,246.50 L264.90,246.53 L265.29,246.56 L265.68,246.58 L266.07,246.61 L266.46,246.63 L266.85,246.66 L267.24,246.68 L267.63,246.71 L268.02,246.73 L268.41,246.75 L268.80,246.78 L269.19,246.80 L269.58,246.82 L269.96,246.85 L270.35,246.87 L270.74,246.89 L271.13,246.91 L271.52,246.93 L271.91,246.96 L272.30,246.98 L272.69,247.00 L273.08,247.02 L273.47,247.04 L273.86,247.06 L274.25,247.08 L274.64,247.10 L275.03,247.12 L275.42,247.14 L275.81,247.16 L276.20,247.18 L276.59,247.20 L276.98,247.21 L277.37,247.23 L277.76,247.25 L278.15,247.27 L278.54,247.29 L278.93,247.30 L279.32,247.32 L279.71,247.34 L280.10,247.36 L280.49,247.37 L280.88,247.39 L281.27,247.41 L281.66,247.42 L282.05,247.44 L282.44,247.45 L282.83,247.47 L283.22,247.49 L283.61,247.50 L284.00,247.52 L284.39,247.53 L284.78,247.55 L285.17,247.56 L285.56,247.58 L285.95,247.59 L286.34,247.61 L286.73,247.62 L287.12,247.63 L287.51,247.65 L287.90,247.66 L288.29,247.68 L288.68,247.69 L289.07,247.70 L289.46,247.72 L289.85,247.73 L290.24,247.74 L290.63,247.75 L291.02,247.77 L291.41,247.78 L291.80,247.79 L292.19,247.81 L292.58,247.82 L292.97,247.83 L293.36,247.84 L293.75,247.85 L294.14,247.87 L294.53,247.88 L294.91,247.89 L295.30,247.90 L295.69,247.91 L296.08,247.92 L296.47,247.93 L296.86,247.95 L297.25,247.96 L297.64,247.97 L298.03,247.98 L298.42,247.99 L298.81,248.00 L299.20,248.01 L299.59,248.02 L299.98,248.03 L300.37,248.04 L300.76,248.05 L301.15,248.06 L301.54,248.07 L301.93,248.08 L302.32,248.09 L302.71,248.10 L303.10,248.11 L303.49,248.12 L303.88,248.13 L304.27,248.14 L304.66,248.15 L305.05,248.16 L305.44,248.17 L305.83,248.18 L306.22,248.18 L306.61,248.19 L307.00,248.20" fill="none" stroke="#1c1c96" stroke-width="1.6"/>
<path d="M34.5,89.7H171.6" stroke="#6a6ae0" stroke-width="1.5"/>
<path d="M34.5,89.7L63.5,108.5" stroke="#2a2ad0" stroke-width="1.2"/>
<path d="M103.4,89.7L112.6,85.3L112.6,94.2Z" fill="#1010c0"/>
<text x="66.60" y="114.60" font-family="Liberation Serif" font-size="16" fill="#1414c8" font-weight="bold" textLength="28.3" lengthAdjust="spacingAndGlyphs">67.9</text>
<path d="M171.4,163.5H307" stroke="#ee22ee" stroke-width="1.2"/>
<path d="M266.3,145.8H284.3L306.6,163.4" stroke="#ee22ee" stroke-width="1.2" fill="none"/>
<path d="M257.5,163.5L250,160L250,167Z" fill="#e010e0"/>
<text x="233.00" y="149.80" font-family="Liberation Serif" font-size="16" fill="#e61ee0" font-weight="bold" textLength="28" lengthAdjust="spacingAndGlyphs">36.8</text>
<path d="M116.1,162.6H150" stroke="#9a9ae8" stroke-width="1.3"/>
<path d="M159.1,162.4L149.2,157.7L149.2,167.1Z" fill="#1010b8"/>
<text x="40.80" y="167.10" font-family="Liberation Serif" font-size="13.3" fill="#3434c8"  stroke="#3434c8" stroke-width="0.22" textLength="7" lengthAdjust="spacingAndGlyphs">Δ</text>
<text x="48.30" y="167.10" font-family="Liberation Serif" font-size="13.3" fill="#3434c8" font-style="italic" stroke="#3434c8" stroke-width="0.22" textLength="6.8" lengthAdjust="spacingAndGlyphs">ϑ</text>
<text x="55.60" y="169.50" font-family="Liberation Serif" font-size="9.5" fill="#3434c8" font-style="italic" stroke="#3434c8" stroke-width="0.22" textLength="7" lengthAdjust="spacingAndGlyphs">is</text>
<text x="67.70" y="167.10" font-family="Liberation Serif" font-size="13.3" fill="#3434c8"  stroke="#3434c8" stroke-width="0.35" textLength="8.3" lengthAdjust="spacingAndGlyphs">=</text>
<text x="80.80" y="167.20" font-family="Liberation Serif" font-size="13.3" fill="#3434c8"  stroke="#3434c8" stroke-width="0.22" textLength="29.6" lengthAdjust="spacingAndGlyphs">78.38</text>
<text x="110.70" y="161.90" font-family="Liberation Serif" font-size="9" fill="#3434c8" font-style="italic" stroke="#3434c8" stroke-width="0.22" textLength="4.8" lengthAdjust="spacingAndGlyphs">o</text>
<path d="M191.7,196.7H206.6" stroke="#f4a0e8" stroke-width="1.3"/>
<path d="M182.6,196.8L191.7,192.6L191.7,201.1Z" fill="#dd40c8"/>
<text x="212.50" y="200.70" font-family="Liberation Serif" font-size="13.3" fill="#e550c8" font-style="italic" stroke="#e550c8" stroke-width="0.22" textLength="8" lengthAdjust="spacingAndGlyphs">Δ</text>
<text x="220.30" y="200.70" font-family="Liberation Serif" font-size="13.3" fill="#e550c8" font-style="italic" stroke="#e550c8" stroke-width="0.22" textLength="7" lengthAdjust="spacingAndGlyphs">ϑ</text>
<text x="227.80" y="203.10" font-family="Liberation Serif" font-size="9.5" fill="#e550c8" font-style="italic" stroke="#e550c8" stroke-width="0.22" textLength="6.8" lengthAdjust="spacingAndGlyphs">is</text>
<text x="239.30" y="200.70" font-family="Liberation Serif" font-size="13.3" fill="#e550c8"  stroke="#e550c8" stroke-width="0.35" textLength="8.6" lengthAdjust="spacingAndGlyphs">=</text>
<text x="252.60" y="200.80" font-family="Liberation Serif" font-size="13.3" fill="#e550c8"  stroke="#e550c8" stroke-width="0.22" textLength="28" lengthAdjust="spacingAndGlyphs">81.53</text>
<text x="281.10" y="195.40" font-family="Liberation Serif" font-size="9" fill="#e550c8" font-style="italic" stroke="#e550c8" stroke-width="0.22" textLength="4.8" lengthAdjust="spacingAndGlyphs">o</text>
<text x="225.90" y="101.60" font-family="Liberation Serif" font-size="12.5" fill="#1e1e1e" font-style="italic" stroke="#1e1e1e" stroke-width="0.22" textLength="7.2" lengthAdjust="spacingAndGlyphs">E</text>
<text x="232.90" y="104.20" font-family="Liberation Serif" font-size="9.8" fill="#1e1e1e" font-style="italic" stroke="#1e1e1e" stroke-width="0.22" textLength="8.8" lengthAdjust="spacingAndGlyphs">oi</text>
<text x="246.30" y="101.60" font-family="Liberation Serif" font-size="12.5" fill="#1e1e1e"  stroke="#1e1e1e" stroke-width="0.35" textLength="7.8" lengthAdjust="spacingAndGlyphs">=</text>
<text x="259.90" y="101.60" font-family="Liberation Serif" font-size="12.5" fill="#1e1e1e"  stroke="#1e1e1e" stroke-width="0.22" textLength="35.4" lengthAdjust="spacingAndGlyphs">10 keV</text>
<text x="224.40" y="118.70" font-family="Liberation Serif" font-size="12.5" fill="#1e1e1e" font-style="italic" stroke="#1e1e1e" stroke-width="0.22" textLength="7.2" lengthAdjust="spacingAndGlyphs">E</text>
<text x="231.40" y="121.30" font-family="Liberation Serif" font-size="9.8" fill="#1e1e1e" font-style="italic" stroke="#1e1e1e" stroke-width="0.22" textLength="8.8" lengthAdjust="spacingAndGlyphs">os</text>
<text x="246.30" y="118.70" font-family="Liberation Serif" font-size="12.5" fill="#1e1e1e"  stroke="#1e1e1e" stroke-width="0.35" textLength="7.8" lengthAdjust="spacingAndGlyphs">=</text>
<text x="259.90" y="118.70" font-family="Liberation Serif" font-size="12.5" fill="#1e1e1e"  stroke="#1e1e1e" stroke-width="0.22" textLength="35.4" lengthAdjust="spacingAndGlyphs">15 keV</text>
<text x="44.90" y="141.20" font-family="Liberation Serif" font-size="16" fill="#111" font-weight="bold" textLength="18.9" lengthAdjust="spacingAndGlyphs">(a)</text>
<rect x="51" y="220.3" width="23.6" height="21" fill="none" stroke="#111" stroke-width="1.6"/>
<text x="54.60" y="235.70" font-family="Liberation Serif" font-size="14" fill="#111"  stroke="#111" stroke-width="0.05" textLength="16.4" lengthAdjust="spacingAndGlyphs">He</text>
<path d="M271,219.98V235.52" stroke="#222" stroke-width="1.1"/>
<text x="274.15" y="233.00" font-family="Liberation Serif" font-size="12.600000000000001" fill="#222"  stroke="#222" stroke-width="0.15" textLength="10.5" lengthAdjust="spacingAndGlyphs">Φ</text>
<text x="286.75" y="227.75" font-family="Liberation Serif" font-size="10.5" fill="#222"  stroke="#222" stroke-width="0.15" textLength="6.09" lengthAdjust="spacingAndGlyphs">±</text>
<text x="286.33" y="237.72" font-family="Liberation Serif" font-size="9.975" fill="#222" font-style="italic" stroke="#222" stroke-width="0.1" textLength="3.7800000000000002" lengthAdjust="spacingAndGlyphs">l</text>
<path d="M295.15,220.4L298.825,229.0625L295.15,237.725" stroke="#222" stroke-width="1.05" fill="none"/>
<text x="70.50" y="291.40" font-family="Liberation Serif" font-size="14.3" fill="#111"  stroke="#111" stroke-width="0.15" textLength="95.8" lengthAdjust="spacingAndGlyphs">Compton angle (</text>
<text x="166.70" y="291.40" font-family="Liberation Serif" font-size="14.3" fill="#111" font-style="italic" stroke="#111" stroke-width="0.15" textLength="6.6" lengthAdjust="spacingAndGlyphs">θ</text>
<text x="173.80" y="294.40" font-family="Liberation Serif" font-size="9.5" fill="#111" font-style="italic" stroke="#111" stroke-width="0.15" textLength="3.2" lengthAdjust="spacingAndGlyphs">i</text>
<text x="181.30" y="291.40" font-family="Liberation Serif" font-size="14.3" fill="#111"  stroke="#111" stroke-width="0.4" textLength="8.1" lengthAdjust="spacingAndGlyphs">=</text>
<text x="193.50" y="291.40" font-family="Liberation Serif" font-size="14.3" fill="#111" font-style="italic" stroke="#111" stroke-width="0.15" textLength="6.6" lengthAdjust="spacingAndGlyphs">θ</text>
<text x="200.00" y="294.40" font-family="Liberation Serif" font-size="9.5" fill="#111" font-style="italic" stroke="#111" stroke-width="0.15" textLength="4.0" lengthAdjust="spacingAndGlyphs">s</text>
<text x="210.00" y="291.40" font-family="Liberation Serif" font-size="14.3" fill="#111"  stroke="#111" stroke-width="0.4" textLength="8.2" lengthAdjust="spacingAndGlyphs">=</text>
<text x="223.00" y="291.40" font-family="Liberation Serif" font-size="14.3" fill="#111" font-style="italic" stroke="#111" stroke-width="0.15" textLength="6.4" lengthAdjust="spacingAndGlyphs">θ</text>
<text x="230.30" y="291.40" font-family="Liberation Serif" font-size="14.3" fill="#111"  stroke="#111" stroke-width="0.15" textLength="4.0" lengthAdjust="spacingAndGlyphs">)</text>
<text x="239.60" y="291.40" font-family="Liberation Serif" font-size="14.3" fill="#111"  stroke="#111" stroke-width="0.15" textLength="30.8" lengthAdjust="spacingAndGlyphs">(deg.)</text>
<text transform="translate(10.8,210) rotate(-90)" font-family="Liberation Serif" font-size="13" fill="#111" stroke="#111" stroke-width="0.05" textLength="91.6" lengthAdjust="spacingAndGlyphs">Azimuthal Ratio</text>
<rect x="390.9" y="0" width="193.7" height="1.7" fill="#b4b4b4"/>
<path d="M391.5,0V135.5" stroke="#6a6a6a" stroke-width="1.1"/>
<path d="M584,0V135.5" stroke="#9a9a9a" stroke-width="1.2"/>
<path d="M390.6,135.9H584.6" stroke="#a8a8a8" stroke-width="1.6"/>
<path d="M391.50,135.5v-4.5M391.50,1.5v4.5M419.83,135.5v-2.5M419.83,1.5v2.5M436.40,135.5v-2.5M436.40,1.5v2.5M448.15,135.5v-2.5M448.15,1.5v2.5M457.27,135.5v-2.5M457.27,1.5v2.5M464.72,135.5v-2.5M464.72,1.5v2.5M471.02,135.5v-2.5M471.02,1.5v2.5M476.48,135.5v-2.5M476.48,1.5v2.5M481.29,135.5v-2.5M481.29,1.5v2.5M485.60,135.5v-4.5M485.60,1.5v4.5M513.93,135.5v-2.5M513.93,1.5v2.5M530.50,135.5v-2.5M530.50,1.5v2.5M542.25,135.5v-2.5M542.25,1.5v2.5M551.37,135.5v-2.5M551.37,1.5v2.5M558.82,135.5v-2.5M558.82,1.5v2.5M565.12,135.5v-2.5M565.12,1.5v2.5M570.58,135.5v-2.5M570.58,1.5v2.5M575.39,135.5v-2.5M575.39,1.5v2.5M579.70,135.5v-4.5M579.70,1.5v4.5M391.5,135.50h4.5M584,135.50h-4.5M391.5,124.57h3M584,124.57h-3M391.5,118.18h3M584,118.18h-3M391.5,113.65h3M584,113.65h-3M391.5,110.13h3M584,110.13h-3M391.5,107.25h3M584,107.25h-3M391.5,104.82h3M584,104.82h-3M391.5,102.72h3M584,102.72h-3M391.5,100.86h3M584,100.86h-3M391.5,99.20h4.5M584,99.20h-4.5M391.5,88.27h3M584,88.27h-3M391.5,81.88h3M584,81.88h-3M391.5,77.35h3M584,77.35h-3M391.5,73.83h3M584,73.83h-3M391.5,70.95h3M584,70.95h-3M391.5,68.52h3M584,68.52h-3M391.5,66.42h3M584,66.42h-3M391.5,64.56h3M584,64.56h-3M391.5,62.90h4.5M584,62.90h-4.5M391.5,51.97h3M584,51.97h-3M391.5,45.58h3M584,45.58h-3M391.5,41.05h3M584,41.05h-3M391.5,37.53h3M584,37.53h-3M391.5,34.65h3M584,34.65h-3M391.5,32.22h3M584,32.22h-3M391.5,30.12h3M584,30.12h-3M391.5,28.26h3M584,28.26h-3M391.5,26.60h4.5M584,26.60h-4.5M391.5,15.67h3M584,15.67h-3M391.5,9.28h3M584,9.28h-3M391.5,4.75h3M584,4.75h-3M391.5,1.23h3M584,1.23h-3" stroke="#666" stroke-width="1" fill="none"/>
<text x="392.10" y="145.70" font-family="Liberation Serif" font-size="7.7" fill="#444"  stroke="#444" stroke-width="0.15" textLength="3.2" lengthAdjust="spacingAndGlyphs" text-anchor="middle">1</text>
<text x="486.20" y="145.70" font-family="Liberation Serif" font-size="7.7" fill="#444"  stroke="#444" stroke-width="0.15" textLength="7.3" lengthAdjust="spacingAndGlyphs" text-anchor="middle">10</text>
<text x="580.30" y="145.70" font-family="Liberation Serif" font-size="7.7" fill="#444"  stroke="#444" stroke-width="0.15" textLength="11" lengthAdjust="spacingAndGlyphs" text-anchor="middle">100</text>
<text x="376.90" y="138.00" font-family="Liberation Serif" font-size="7.3" fill="#3a3a3a"  stroke="#3a3a3a" stroke-width="0.2" textLength="6.8" lengthAdjust="spacingAndGlyphs">10</text>
<text x="385.00" y="136.10" font-family="Liberation Serif" font-size="4" fill="#555"  stroke="#555" stroke-width="0.1" textLength="3" lengthAdjust="spacingAndGlyphs">−4</text>
<text x="587.90" y="138.00" font-family="Liberation Serif" font-size="7.3" fill="#3a3a3a"  stroke="#3a3a3a" stroke-width="0.2" textLength="6.8" lengthAdjust="spacingAndGlyphs">10</text>
<text x="596.00" y="136.10" font-family="Liberation Serif" font-size="4" fill="#555"  stroke="#555" stroke-width="0.1" textLength="3" lengthAdjust="spacingAndGlyphs">−4</text>
<text x="376.90" y="101.70" font-family="Liberation Serif" font-size="7.3" fill="#3a3a3a"  stroke="#3a3a3a" stroke-width="0.2" textLength="6.8" lengthAdjust="spacingAndGlyphs">10</text>
<text x="385.00" y="99.80" font-family="Liberation Serif" font-size="4" fill="#555"  stroke="#555" stroke-width="0.1" textLength="3" lengthAdjust="spacingAndGlyphs">−3</text>
<text x="587.90" y="101.70" font-family="Liberation Serif" font-size="7.3" fill="#3a3a3a"  stroke="#3a3a3a" stroke-width="0.2" textLength="6.8" lengthAdjust="spacingAndGlyphs">10</text>
<text x="596.00" y="99.80" font-family="Liberation Serif" font-size="4" fill="#555"  stroke="#555" stroke-width="0.1" textLength="3" lengthAdjust="spacingAndGlyphs">−3</text>
<text x="376.90" y="65.40" font-family="Liberation Serif" font-size="7.3" fill="#3a3a3a"  stroke="#3a3a3a" stroke-width="0.2" textLength="6.8" lengthAdjust="spacingAndGlyphs">10</text>
<text x="385.00" y="63.50" font-family="Liberation Serif" font-size="4" fill="#555"  stroke="#555" stroke-width="0.1" textLength="3" lengthAdjust="spacingAndGlyphs">−2</text>
<text x="587.90" y="65.40" font-family="Liberation Serif" font-size="7.3" fill="#3a3a3a"  stroke="#3a3a3a" stroke-width="0.2" textLength="6.8" lengthAdjust="spacingAndGlyphs">10</text>
<text x="596.00" y="63.50" font-family="Liberation Serif" font-size="4" fill="#555"  stroke="#555" stroke-width="0.1" textLength="3" lengthAdjust="spacingAndGlyphs">−2</text>
<text x="376.90" y="29.10" font-family="Liberation Serif" font-size="7.3" fill="#3a3a3a"  stroke="#3a3a3a" stroke-width="0.2" textLength="6.8" lengthAdjust="spacingAndGlyphs">10</text>
<text x="385.00" y="27.20" font-family="Liberation Serif" font-size="4" fill="#555"  stroke="#555" stroke-width="0.1" textLength="3" lengthAdjust="spacingAndGlyphs">−1</text>
<text x="587.90" y="29.10" font-family="Liberation Serif" font-size="7.3" fill="#3a3a3a"  stroke="#3a3a3a" stroke-width="0.2" textLength="6.8" lengthAdjust="spacingAndGlyphs">10</text>
<text x="596.00" y="27.20" font-family="Liberation Serif" font-size="4" fill="#555"  stroke="#555" stroke-width="0.1" textLength="3" lengthAdjust="spacingAndGlyphs">−1</text>
<path d="M423.90,135.17 L424.53,134.17 L425.16,133.18 L425.79,132.20 L426.41,131.23 L427.04,130.27 L427.67,129.32 L428.30,128.38 L428.93,127.45 L429.56,126.53 L430.19,125.61 L430.82,124.71 L431.44,123.81 L432.07,122.92 L432.70,122.04 L433.33,121.16 L433.96,120.29 L434.59,119.43 L435.22,118.57 L435.84,117.72 L436.47,116.87 L437.10,116.03 L437.73,115.20 L438.36,114.37 L438.99,113.55 L439.62,112.73 L440.24,111.91 L440.87,111.10 L441.50,110.29 L442.13,109.49 L442.76,108.69 L443.39,107.89 L444.02,107.09 L444.65,106.30 L445.27,105.51 L445.90,104.73 L446.53,103.94 L447.16,103.16 L447.79,102.38 L448.42,101.60 L449.05,100.82 L449.67,100.05 L450.30,99.28 L450.93,98.50 L451.56,97.73 L452.19,96.96 L452.82,96.19 L453.45,95.42 L454.07,94.65 L454.70,93.89 L455.33,93.12 L455.96,92.35 L456.59,91.58 L457.22,90.82 L457.85,90.05 L458.48,89.28 L459.10,88.52 L459.73,87.75 L460.36,86.98 L460.99,86.21 L461.62,85.44 L462.25,84.67 L462.88,83.90 L463.50,83.13 L464.13,82.36 L464.76,81.59 L465.39,80.82 L466.02,80.04 L466.65,79.27 L467.28,78.50 L467.91,77.72 L468.53,76.94 L469.16,76.16 L469.79,75.39 L470.42,74.61 L471.05,73.83 L471.68,73.04 L472.31,72.26 L472.93,71.48 L473.56,70.70 L474.19,69.91 L474.82,69.12 L475.45,68.34 L476.08,67.55 L476.71,66.76 L477.33,65.98 L477.96,65.19 L478.59,64.40 L479.22,63.61 L479.85,62.82 L480.48,62.02 L481.11,61.23 L481.74,60.44 L482.36,59.65 L482.99,58.86 L483.62,58.07 L484.25,57.27 L484.88,56.48 L485.51,55.69 L486.14,54.90 L486.76,54.11 L487.39,53.32 L488.02,52.53 L488.65,51.74 L489.28,50.95 L489.91,50.17 L490.54,49.38 L491.16,48.60 L491.79,47.81 L492.42,47.03 L493.05,46.25 L493.68,45.47 L494.31,44.70 L494.94,43.92 L495.57,43.15 L496.19,42.38 L496.82,41.61 L497.45,40.85 L498.08,40.09 L498.71,39.33 L499.34,38.57 L499.97,37.82 L500.59,37.07 L501.22,36.33 L501.85,35.59 L502.48,34.85 L503.11,34.12 L503.74,33.39 L504.37,32.67 L504.99,31.95 L505.62,31.24 L506.25,30.53 L506.88,29.83 L507.51,29.13 L508.14,28.44 L508.77,27.76 L509.40,27.08 L510.02,26.41 L510.65,25.75 L511.28,25.09 L511.91,24.44 L512.54,23.80 L513.17,23.16 L513.80,22.54 L514.42,21.92 L515.05,21.31 L515.68,20.71 L516.31,20.12 L516.94,19.54 L517.57,18.96 L518.20,18.40 L518.83,17.85 L519.45,17.31 L520.08,16.78 L520.71,16.26 L521.34,15.75 L521.97,15.25 L522.60,14.77 L523.23,14.29 L523.85,13.83 L524.48,13.38 L525.11,12.95 L525.74,12.53 L526.37,12.12 L527.00,11.73 L527.63,11.35 L528.25,10.98 L528.88,10.63 L529.51,10.30 L530.14,9.98 L530.77,9.67 L531.40,9.38 L532.03,9.11 L532.66,8.86 L533.28,8.62 L533.91,8.40 L534.54,8.20 L535.17,8.02 L535.80,7.85 L536.43,7.70 L537.06,7.58 L537.68,7.47 L538.31,7.38 L538.94,7.31 L539.57,7.27 L540.20,7.24 L540.83,7.24 L541.46,7.26 L542.08,7.29 L542.71,7.36 L543.34,7.44 L543.97,7.55 L544.60,7.68 L545.23,7.84 L545.86,8.01 L546.49,8.22 L547.11,8.45 L547.74,8.70 L548.37,8.98 L549.00,9.29 L549.00,10.31 L548.46,10.18 L547.91,10.06 L547.37,9.96 L546.83,9.89 L546.29,9.83 L545.74,9.80 L545.20,9.78 L544.66,9.79 L544.12,9.81 L543.57,9.85 L543.03,9.91 L542.49,9.99 L541.94,10.08 L541.40,10.19 L540.86,10.32 L540.32,10.46 L539.77,10.62 L539.23,10.79 L538.69,10.98 L538.15,11.19 L537.60,11.41 L537.06,11.64 L536.52,11.89 L535.97,12.15 L535.43,12.43 L534.89,12.71 L534.35,13.02 L533.80,13.33 L533.26,13.65 L532.72,13.99 L532.18,14.34 L531.63,14.70 L531.09,15.08 L530.55,15.46 L530.01,15.85 L529.46,16.26 L528.92,16.67 L528.38,17.10 L527.83,17.53 L527.29,17.98 L526.75,18.43 L526.21,18.90 L525.66,19.37 L525.12,19.85 L524.58,20.34 L524.04,20.84 L523.49,21.35 L522.95,21.87 L522.41,22.39 L521.86,22.92 L521.32,23.46 L520.78,24.01 L520.24,24.57 L519.69,25.13 L519.15,25.70 L518.61,26.27 L518.07,26.86 L517.52,27.45 L516.98,28.04 L516.44,28.65 L515.89,29.25 L515.35,29.87 L514.81,30.49 L514.27,31.12 L513.72,31.75 L513.18,32.39 L512.64,33.03 L512.10,33.68 L511.55,34.34 L511.01,35.00 L510.47,35.66 L509.92,36.33 L509.38,37.01 L508.84,37.69 L508.30,38.37 L507.75,39.06 L507.21,39.76 L506.67,40.46 L506.13,41.16 L505.58,41.87 L505.04,42.58 L504.50,43.29 L503.95,44.02 L503.41,44.74 L502.87,45.47 L502.33,46.20 L501.78,46.94 L501.24,47.68 L500.70,48.42 L500.16,49.17 L499.61,49.92 L499.07,50.67 L498.53,51.43 L497.98,52.19 L497.44,52.95 L496.90,53.72 L496.36,54.49 L495.81,55.27 L495.27,56.04 L494.73,56.83 L494.19,57.61 L493.64,58.39 L493.10,59.18 L492.56,59.98 L492.02,60.77 L491.47,61.57 L490.93,62.37 L490.39,63.17 L489.84,63.97 L489.30,64.78 L488.76,65.59 L488.22,66.40 L487.67,67.22 L487.13,68.04 L486.59,68.85 L486.05,69.68 L485.50,70.50 L484.96,71.32 L484.42,72.15 L483.87,72.98 L483.33,73.81 L482.79,74.64 L482.25,75.48 L481.70,76.31 L481.16,77.15 L480.62,77.99 L480.08,78.83 L479.53,79.67 L478.99,80.51 L478.45,81.36 L477.90,82.20 L477.36,83.05 L476.82,83.90 L476.28,84.75 L475.73,85.59 L475.19,86.44 L474.65,87.29 L474.11,88.15 L473.56,89.00 L473.02,89.85 L472.48,90.70 L471.93,91.55 L471.39,92.40 L470.85,93.26 L470.31,94.11 L469.76,94.96 L469.22,95.81 L468.68,96.66 L468.14,97.51 L467.59,98.36 L467.05,99.21 L466.51,100.06 L465.96,100.90 L465.42,101.75 L464.88,102.59 L464.34,103.43 L463.79,104.28 L463.25,105.11 L462.71,105.95 L462.17,106.79 L461.62,107.62 L461.08,108.45 L460.54,109.27 L459.99,110.10 L459.45,110.92 L458.91,111.74 L458.37,112.55 L457.82,113.37 L457.28,114.17 L456.74,114.98 L456.20,115.78 L455.65,116.57 L455.11,117.36 L454.57,118.15 L454.03,118.93 L453.48,119.71 L452.94,120.48 L452.40,121.25 L451.85,122.01 L451.31,122.76 L450.77,123.51 L450.23,124.25 L449.68,124.98 L449.14,125.71 L448.60,126.43 L448.06,127.14 L447.51,127.84 L446.97,128.54 L446.43,129.22 L445.88,129.90 L445.34,130.57 L444.80,131.23 L444.26,131.88 L443.71,132.52 L443.17,133.15 L442.63,133.77 L442.09,134.38 L441.54,134.97 L441.00,135.56Z" fill="#800080" stroke="#5a30c0" stroke-width="0.5"/>
<path d="M538.00,8.00 L538.67,7.98 L539.33,7.94 L540.00,7.91 L540.67,7.89 L541.33,7.88 L542.00,7.90 L542.67,7.94 L543.33,7.98 L544.00,8.04 L544.67,8.13 L545.33,8.25 L546.00,8.40 L546.66,8.58 L547.30,8.79 L547.94,9.03 L548.59,9.30 L549.28,9.62 L550.00,10.00 L550.78,10.43 L551.59,10.91 L552.44,11.43 L553.30,12.00 L554.16,12.63 L555.00,13.30 L555.87,14.08 L556.78,14.97 L557.69,15.91 L558.56,16.83 L559.34,17.69 L560.00,18.40 L560.51,18.96 L560.89,19.40 L561.19,19.77 L561.44,20.10 L561.70,20.43 L562.00,20.80 L562.50,21.61 L563.00,22.39 L563.50,23.18 L564.00,23.99 L564.50,24.85 L565.00,25.80 L565.51,26.86 L566.04,28.01 L566.56,29.23 L567.07,30.45 L567.56,31.66 L568.00,32.80 L568.39,33.87 L568.74,34.90 L569.06,35.90 L569.37,36.90 L569.68,37.93 L570.00,39.00 L570.33,40.13 L570.67,41.30 L571.00,42.50 L571.33,43.70 L571.67,44.87 L572.00,46.00 L572.34,47.13 L572.69,48.28 L573.04,49.41 L573.39,50.47 L573.71,51.41 L574.00,52.20 L574.26,52.84 L574.49,53.37 L574.69,53.78 L574.89,54.08 L575.09,54.25 L575.30,54.30 L575.52,54.21 L575.73,53.98 L575.94,53.62 L576.16,53.17 L576.38,52.62 L576.60,52.00 L576.83,51.25 L577.07,50.34 L577.32,49.34 L577.56,48.32 L577.79,47.35 L578.00,46.50 L578.18,45.83 L578.33,45.29 L578.46,44.81 L578.61,44.29 L578.78,43.64 L579.00,42.80 L579.28,41.70 L579.59,40.41 L579.94,38.99 L580.30,37.54 L580.66,36.11 L581.00,34.80 L581.34,33.56 L581.70,32.32 L582.06,31.11 L582.41,29.97 L582.72,28.92 L583.00,28.00 L583.22,27.24 L583.41,26.61 L583.56,26.09 L583.70,25.61 L583.84,25.13 L584.00,24.60" fill="none" stroke="#ff6a6a" stroke-width="1.1"/>
<path d="M538.00,8.00 L538.67,7.98 L539.33,7.94 L540.00,7.91 L540.67,7.89 L541.33,7.88 L542.00,7.90 L542.67,7.94 L543.33,7.98 L544.00,8.04 L544.67,8.13 L545.33,8.25 L546.00,8.40 L546.66,8.58 L547.30,8.79 L547.94,9.03 L548.59,9.30 L549.28,9.62 L550.00,10.00 L550.78,10.43 L551.59,10.91 L552.44,11.43 L553.30,12.00 L554.16,12.63 L555.00,13.30 L555.87,14.08 L556.78,14.97 L557.69,15.91 L558.56,16.83 L559.34,17.69 L560.00,18.40 L560.51,18.96 L560.89,19.40 L561.19,19.77 L561.44,20.10 L561.70,20.43 L562.00,20.80 L562.50,21.90 L563.00,22.97 L563.50,24.04 L564.00,25.13 L564.50,26.28 L565.00,27.50 L565.51,28.82 L566.04,30.22 L566.56,31.67 L567.07,33.14 L567.56,34.59 L568.00,36.00 L568.39,37.30 L568.75,38.52 L569.08,39.72 L569.39,40.98 L569.70,42.38 L570.00,44.00 L570.31,45.88 L570.61,47.96 L570.91,50.19 L571.20,52.48 L571.46,54.78 L571.70,57.00 L571.91,59.20 L572.09,61.44 L572.24,63.69 L572.39,65.89 L572.54,68.01 L572.70,70.00 L572.87,71.84 L573.04,73.56 L573.21,75.19 L573.38,76.78 L573.54,78.37 L573.70,80.00 L573.85,81.72 L573.99,83.50 L574.13,85.29 L574.26,87.01 L574.38,88.60 L574.50,90.00 L574.61,91.29 L574.71,92.54 L574.80,93.66 L574.89,94.57 L574.99,95.18 L575.10,95.40 L575.22,95.18 L575.34,94.57 L575.47,93.66 L575.60,92.54 L575.75,91.29 L575.90,90.00 L576.07,88.60 L576.25,87.01 L576.44,85.29 L576.63,83.50 L576.82,81.72 L577.00,80.00 L577.17,78.33 L577.34,76.67 L577.51,75.00 L577.68,73.33 L577.84,71.67 L578.00,70.00 L578.15,68.31 L578.30,66.59 L578.44,64.88 L578.59,63.19 L578.74,61.55 L578.90,60.00 L579.07,58.54 L579.26,57.15 L579.44,55.81 L579.63,54.52 L579.82,53.25 L580.00,52.00 L580.17,50.77 L580.34,49.57 L580.51,48.41 L580.67,47.26 L580.83,46.13 L581.00,45.00 L581.17,43.89 L581.33,42.81 L581.50,41.75 L581.67,40.69 L581.83,39.61 L582.00,38.50 L582.17,37.36 L582.33,36.20 L582.50,35.02 L582.67,33.84 L582.83,32.67 L583.00,31.50 L583.17,30.34 L583.33,29.19 L583.50,28.04 L583.67,26.90 L583.83,25.75 L584.00,24.60" fill="none" stroke="#8080ff" stroke-width="1" opacity="0.85"/>
<path d="M538.00,8.00 L538.67,7.98 L539.33,7.94 L540.00,7.91 L540.67,7.89 L541.33,7.88 L542.00,7.90 L542.67,7.94 L543.33,7.98 L544.00,8.04 L544.67,8.13 L545.33,8.25 L546.00,8.40 L546.66,8.58 L547.30,8.79 L547.94,9.03 L548.59,9.30 L549.28,9.62 L550.00,10.00 L550.78,10.43 L551.59,10.91 L552.44,11.43 L553.30,12.00 L554.16,12.63 L555.00,13.30 L555.87,14.08 L556.78,14.97 L557.69,15.91 L558.56,16.83 L559.34,17.69 L560.00,18.40 L560.51,18.96 L560.89,19.40 L561.19,19.77 L561.44,20.10 L561.70,20.43 L562.00,20.80" fill="none" stroke="#5a2a9a" stroke-width="1.4" opacity="0.8"/>
<rect x="392.3" y="182.6" width="193.90000000000003" height="135.50000000000003" fill="none" stroke="#6e6e6e" stroke-width="1.1"/>
<path d="M392.30,318.1v-4.5M392.30,182.6v4.5M420.81,318.1v-2.5M420.81,182.6v2.5M437.48,318.1v-2.5M437.48,182.6v2.5M449.32,318.1v-2.5M449.32,182.6v2.5M458.49,318.1v-2.5M458.49,182.6v2.5M465.99,318.1v-2.5M465.99,182.6v2.5M472.33,318.1v-2.5M472.33,182.6v2.5M477.82,318.1v-2.5M477.82,182.6v2.5M482.67,318.1v-2.5M482.67,182.6v2.5M487.00,318.1v-4.5M487.00,182.6v4.5M515.51,318.1v-2.5M515.51,182.6v2.5M532.18,318.1v-2.5M532.18,182.6v2.5M544.02,318.1v-2.5M544.02,182.6v2.5M553.19,318.1v-2.5M553.19,182.6v2.5M560.69,318.1v-2.5M560.69,182.6v2.5M567.03,318.1v-2.5M567.03,182.6v2.5M572.52,318.1v-2.5M572.52,182.6v2.5M577.37,318.1v-2.5M577.37,182.6v2.5M581.70,318.1v-4.5M581.70,182.6v4.5M392.3,318.10h4.5M586.2,318.10h-4.5M392.3,307.14h3M586.2,307.14h-3M392.3,300.73h3M586.2,300.73h-3M392.3,296.19h3M586.2,296.19h-3M392.3,292.66h3M586.2,292.66h-3M392.3,289.78h3M586.2,289.78h-3M392.3,287.34h3M586.2,287.34h-3M392.3,285.23h3M586.2,285.23h-3M392.3,283.37h3M586.2,283.37h-3M392.3,281.70h4.5M586.2,281.70h-4.5M392.3,270.74h3M586.2,270.74h-3M392.3,264.33h3M586.2,264.33h-3M392.3,259.79h3M586.2,259.79h-3M392.3,256.26h3M586.2,256.26h-3M392.3,253.38h3M586.2,253.38h-3M392.3,250.94h3M586.2,250.94h-3M392.3,248.83h3M586.2,248.83h-3M392.3,246.97h3M586.2,246.97h-3M392.3,245.30h4.5M586.2,245.30h-4.5M392.3,234.34h3M586.2,234.34h-3M392.3,227.93h3M586.2,227.93h-3M392.3,223.39h3M586.2,223.39h-3M392.3,219.86h3M586.2,219.86h-3M392.3,216.98h3M586.2,216.98h-3M392.3,214.54h3M586.2,214.54h-3M392.3,212.43h3M586.2,212.43h-3M392.3,210.57h3M586.2,210.57h-3M392.3,208.90h4.5M586.2,208.90h-4.5M392.3,197.94h3M586.2,197.94h-3M392.3,191.53h3M586.2,191.53h-3M392.3,186.99h3M586.2,186.99h-3M392.3,183.46h3M586.2,183.46h-3" stroke="#666" stroke-width="1" fill="none"/>
<text x="392.90" y="328.30" font-family="Liberation Serif" font-size="7.7" fill="#444"  stroke="#444" stroke-width="0.15" textLength="3.2" lengthAdjust="spacingAndGlyphs" text-anchor="middle">1</text>
<text x="487.60" y="328.30" font-family="Liberation Serif" font-size="7.7" fill="#444"  stroke="#444" stroke-width="0.15" textLength="7.3" lengthAdjust="spacingAndGlyphs" text-anchor="middle">10</text>
<text x="582.30" y="328.30" font-family="Liberation Serif" font-size="7.7" fill="#444"  stroke="#444" stroke-width="0.15" textLength="11" lengthAdjust="spacingAndGlyphs" text-anchor="middle">100</text>
<text x="377.70" y="320.60" font-family="Liberation Serif" font-size="7.3" fill="#3a3a3a"  stroke="#3a3a3a" stroke-width="0.2" textLength="6.8" lengthAdjust="spacingAndGlyphs">10</text>
<text x="385.80" y="318.70" font-family="Liberation Serif" font-size="4" fill="#555"  stroke="#555" stroke-width="0.1" textLength="3" lengthAdjust="spacingAndGlyphs">−4</text>
<text x="590.10" y="320.60" font-family="Liberation Serif" font-size="7.3" fill="#3a3a3a"  stroke="#3a3a3a" stroke-width="0.2" textLength="6.8" lengthAdjust="spacingAndGlyphs">10</text>
<text x="598.20" y="318.70" font-family="Liberation Serif" font-size="4" fill="#555"  stroke="#555" stroke-width="0.1" textLength="3" lengthAdjust="spacingAndGlyphs">−4</text>
<text x="377.70" y="284.20" font-family="Liberation Serif" font-size="7.3" fill="#3a3a3a"  stroke="#3a3a3a" stroke-width="0.2" textLength="6.8" lengthAdjust="spacingAndGlyphs">10</text>
<text x="385.80" y="282.30" font-family="Liberation Serif" font-size="4" fill="#555"  stroke="#555" stroke-width="0.1" textLength="3" lengthAdjust="spacingAndGlyphs">−3</text>
<text x="590.10" y="284.20" font-family="Liberation Serif" font-size="7.3" fill="#3a3a3a"  stroke="#3a3a3a" stroke-width="0.2" textLength="6.8" lengthAdjust="spacingAndGlyphs">10</text>
<text x="598.20" y="282.30" font-family="Liberation Serif" font-size="4" fill="#555"  stroke="#555" stroke-width="0.1" textLength="3" lengthAdjust="spacingAndGlyphs">−3</text>
<text x="377.70" y="247.80" font-family="Liberation Serif" font-size="7.3" fill="#3a3a3a"  stroke="#3a3a3a" stroke-width="0.2" textLength="6.8" lengthAdjust="spacingAndGlyphs">10</text>
<text x="385.80" y="245.90" font-family="Liberation Serif" font-size="4" fill="#555"  stroke="#555" stroke-width="0.1" textLength="3" lengthAdjust="spacingAndGlyphs">−2</text>
<text x="590.10" y="247.80" font-family="Liberation Serif" font-size="7.3" fill="#3a3a3a"  stroke="#3a3a3a" stroke-width="0.2" textLength="6.8" lengthAdjust="spacingAndGlyphs">10</text>
<text x="598.20" y="245.90" font-family="Liberation Serif" font-size="4" fill="#555"  stroke="#555" stroke-width="0.1" textLength="3" lengthAdjust="spacingAndGlyphs">−2</text>
<text x="377.70" y="211.40" font-family="Liberation Serif" font-size="7.3" fill="#3a3a3a"  stroke="#3a3a3a" stroke-width="0.2" textLength="6.8" lengthAdjust="spacingAndGlyphs">10</text>
<text x="385.80" y="209.50" font-family="Liberation Serif" font-size="4" fill="#555"  stroke="#555" stroke-width="0.1" textLength="3" lengthAdjust="spacingAndGlyphs">−1</text>
<text x="590.10" y="211.40" font-family="Liberation Serif" font-size="7.3" fill="#3a3a3a"  stroke="#3a3a3a" stroke-width="0.2" textLength="6.8" lengthAdjust="spacingAndGlyphs">10</text>
<text x="598.20" y="209.50" font-family="Liberation Serif" font-size="4" fill="#555"  stroke="#555" stroke-width="0.1" textLength="3" lengthAdjust="spacingAndGlyphs">−1</text>
<path d="M424.91,317.77 L425.54,316.77 L426.17,315.77 L426.80,314.79 L427.44,313.82 L428.07,312.86 L428.70,311.90 L429.34,310.96 L429.97,310.03 L430.60,309.10 L431.23,308.19 L431.87,307.28 L432.50,306.38 L433.13,305.48 L433.76,304.60 L434.40,303.72 L435.03,302.85 L435.66,301.98 L436.29,301.12 L436.93,300.27 L437.56,299.42 L438.19,298.58 L438.82,297.74 L439.46,296.91 L440.09,296.09 L440.72,295.26 L441.36,294.45 L441.99,293.63 L442.62,292.82 L443.25,292.01 L443.89,291.21 L444.52,290.41 L445.15,289.61 L445.78,288.82 L446.42,288.03 L447.05,287.24 L447.68,286.45 L448.31,285.67 L448.95,284.89 L449.58,284.11 L450.21,283.33 L450.85,282.55 L451.48,281.78 L452.11,281.00 L452.74,280.23 L453.38,279.46 L454.01,278.68 L454.64,277.91 L455.27,277.14 L455.91,276.37 L456.54,275.60 L457.17,274.83 L457.80,274.06 L458.44,273.29 L459.07,272.53 L459.70,271.76 L460.34,270.99 L460.97,270.22 L461.60,269.45 L462.23,268.68 L462.87,267.91 L463.50,267.13 L464.13,266.36 L464.76,265.59 L465.40,264.82 L466.03,264.04 L466.66,263.27 L467.29,262.49 L467.93,261.72 L468.56,260.94 L469.19,260.16 L469.82,259.38 L470.46,258.60 L471.09,257.82 L471.72,257.04 L472.36,256.26 L472.99,255.47 L473.62,254.69 L474.25,253.90 L474.89,253.12 L475.52,252.33 L476.15,251.54 L476.78,250.75 L477.42,249.96 L478.05,249.17 L478.68,248.38 L479.31,247.59 L479.95,246.80 L480.58,246.01 L481.21,245.22 L481.85,244.42 L482.48,243.63 L483.11,242.83 L483.74,242.04 L484.38,241.25 L485.01,240.45 L485.64,239.66 L486.27,238.86 L486.91,238.07 L487.54,237.28 L488.17,236.48 L488.80,235.69 L489.44,234.90 L490.07,234.11 L490.70,233.32 L491.34,232.53 L491.97,231.74 L492.60,230.96 L493.23,230.17 L493.87,229.39 L494.50,228.60 L495.13,227.82 L495.76,227.05 L496.40,226.27 L497.03,225.50 L497.66,224.72 L498.29,223.95 L498.93,223.19 L499.56,222.42 L500.19,221.66 L500.82,220.91 L501.46,220.15 L502.09,219.40 L502.72,218.66 L503.36,217.91 L503.99,217.17 L504.62,216.44 L505.25,215.71 L505.89,214.99 L506.52,214.27 L507.15,213.55 L507.78,212.84 L508.42,212.14 L509.05,211.44 L509.68,210.75 L510.31,210.06 L510.95,209.38 L511.58,208.71 L512.21,208.04 L512.85,207.38 L513.48,206.73 L514.11,206.09 L514.74,205.45 L515.38,204.83 L516.01,204.21 L516.64,203.60 L517.27,202.99 L517.91,202.40 L518.54,201.82 L519.17,201.24 L519.80,200.68 L520.44,200.13 L521.07,199.58 L521.70,199.05 L522.33,198.53 L522.97,198.02 L523.60,197.52 L524.23,197.03 L524.87,196.56 L525.50,196.10 L526.13,195.65 L526.76,195.21 L527.40,194.79 L528.03,194.38 L528.66,193.98 L529.29,193.60 L529.93,193.24 L530.56,192.89 L531.19,192.55 L531.82,192.23 L532.46,191.92 L533.09,191.64 L533.72,191.36 L534.36,191.11 L534.99,190.87 L535.62,190.65 L536.25,190.45 L536.89,190.26 L537.52,190.10 L538.15,189.95 L538.78,189.83 L539.42,189.72 L540.05,189.63 L540.68,189.56 L541.31,189.51 L541.95,189.49 L542.58,189.48 L543.21,189.50 L543.85,189.54 L544.48,189.60 L545.11,189.69 L545.74,189.80 L546.38,189.93 L547.01,190.08 L547.64,190.26 L548.27,190.47 L548.91,190.70 L549.54,190.95 L550.17,191.24 L550.80,191.54 L550.80,192.57 L550.26,192.43 L549.71,192.31 L549.17,192.22 L548.62,192.14 L548.07,192.09 L547.53,192.05 L546.98,192.04 L546.43,192.04 L545.89,192.06 L545.34,192.10 L544.80,192.16 L544.25,192.24 L543.70,192.33 L543.16,192.44 L542.61,192.57 L542.07,192.72 L541.52,192.88 L540.97,193.05 L540.43,193.24 L539.88,193.45 L539.33,193.67 L538.79,193.90 L538.24,194.15 L537.70,194.41 L537.15,194.69 L536.60,194.98 L536.06,195.28 L535.51,195.59 L534.97,195.92 L534.42,196.26 L533.87,196.61 L533.33,196.97 L532.78,197.34 L532.23,197.73 L531.69,198.12 L531.14,198.53 L530.60,198.95 L530.05,199.37 L529.50,199.81 L528.96,200.26 L528.41,200.71 L527.86,201.18 L527.32,201.65 L526.77,202.14 L526.23,202.63 L525.68,203.13 L525.13,203.64 L524.59,204.16 L524.04,204.68 L523.50,205.21 L522.95,205.76 L522.40,206.30 L521.86,206.86 L521.31,207.42 L520.76,208.00 L520.22,208.57 L519.67,209.16 L519.13,209.75 L518.58,210.35 L518.03,210.95 L517.49,211.56 L516.94,212.18 L516.40,212.80 L515.85,213.43 L515.30,214.06 L514.76,214.70 L514.21,215.35 L513.66,216.00 L513.12,216.66 L512.57,217.32 L512.03,217.99 L511.48,218.66 L510.93,219.34 L510.39,220.02 L509.84,220.71 L509.30,221.40 L508.75,222.09 L508.20,222.79 L507.66,223.50 L507.11,224.21 L506.56,224.92 L506.02,225.64 L505.47,226.36 L504.93,227.09 L504.38,227.82 L503.83,228.55 L503.29,229.29 L502.74,230.03 L502.19,230.78 L501.65,231.53 L501.10,232.28 L500.56,233.04 L500.01,233.80 L499.46,234.56 L498.92,235.33 L498.37,236.10 L497.83,236.87 L497.28,237.65 L496.73,238.43 L496.19,239.21 L495.64,239.99 L495.09,240.78 L494.55,241.57 L494.00,242.37 L493.46,243.16 L492.91,243.96 L492.36,244.77 L491.82,245.57 L491.27,246.38 L490.73,247.19 L490.18,248.00 L489.63,248.81 L489.09,249.63 L488.54,250.45 L487.99,251.27 L487.45,252.09 L486.90,252.92 L486.36,253.75 L485.81,254.58 L485.26,255.41 L484.72,256.24 L484.17,257.08 L483.62,257.91 L483.08,258.75 L482.53,259.59 L481.99,260.43 L481.44,261.27 L480.89,262.12 L480.35,262.96 L479.80,263.81 L479.26,264.66 L478.71,265.51 L478.16,266.36 L477.62,267.21 L477.07,268.06 L476.52,268.91 L475.98,269.76 L475.43,270.62 L474.89,271.47 L474.34,272.32 L473.79,273.18 L473.25,274.03 L472.70,274.89 L472.16,275.74 L471.61,276.59 L471.06,277.45 L470.52,278.30 L469.97,279.15 L469.42,280.01 L468.88,280.86 L468.33,281.71 L467.79,282.56 L467.24,283.41 L466.69,284.26 L466.15,285.10 L465.60,285.95 L465.05,286.79 L464.51,287.63 L463.96,288.47 L463.42,289.31 L462.87,290.14 L462.32,290.97 L461.78,291.80 L461.23,292.63 L460.69,293.45 L460.14,294.27 L459.59,295.09 L459.05,295.90 L458.50,296.72 L457.95,297.52 L457.41,298.32 L456.86,299.12 L456.32,299.91 L455.77,300.70 L455.22,301.49 L454.68,302.27 L454.13,303.04 L453.59,303.81 L453.04,304.57 L452.49,305.32 L451.95,306.07 L451.40,306.82 L450.85,307.55 L450.31,308.28 L449.76,309.00 L449.22,309.71 L448.67,310.42 L448.12,311.12 L447.58,311.81 L447.03,312.49 L446.49,313.16 L445.94,313.82 L445.39,314.47 L444.85,315.11 L444.30,315.74 L443.75,316.36 L443.21,316.97 L442.66,317.57 L442.12,318.16Z" fill="#800080" stroke="#5a30c0" stroke-width="0.5"/>
<path d="M539.73,190.25 L540.41,190.23 L541.08,190.19 L541.75,190.16 L542.42,190.14 L543.09,190.13 L543.76,190.15 L544.43,190.18 L545.10,190.23 L545.77,190.29 L546.44,190.38 L547.11,190.50 L547.79,190.65 L548.44,190.83 L549.09,191.04 L549.73,191.28 L550.39,191.55 L551.08,191.88 L551.81,192.25 L552.59,192.69 L553.41,193.16 L554.26,193.69 L555.13,194.26 L555.99,194.89 L556.84,195.56 L557.72,196.34 L558.63,197.23 L559.55,198.18 L560.42,199.11 L561.21,199.96 L561.87,200.68 L562.38,201.24 L562.77,201.68 L563.07,202.05 L563.33,202.38 L563.59,202.71 L563.89,203.08 L564.00,203.65 L564.50,204.57 L565.00,205.49 L565.50,206.44 L566.00,207.43 L566.50,208.50 L567.01,209.66 L567.54,210.89 L568.06,212.18 L568.57,213.47 L569.06,214.76 L569.50,216.00 L569.89,217.18 L570.24,218.33 L570.56,219.47 L570.87,220.61 L571.18,221.78 L571.50,223.00 L571.83,224.26 L572.17,225.56 L572.50,226.88 L572.83,228.22 L573.17,229.60 L573.50,231.00 L573.84,232.48 L574.19,234.05 L574.53,235.65 L574.87,237.21 L575.20,238.69 L575.50,240.00 L575.78,241.26 L576.04,242.53 L576.28,243.71 L576.52,244.69 L576.76,245.35 L577.00,245.60 L577.25,245.35 L577.50,244.69 L577.75,243.71 L578.00,242.53 L578.25,241.26 L578.50,240.00 L578.74,238.71 L578.98,237.31 L579.22,235.81 L579.46,234.24 L579.72,232.63 L580.00,231.00 L580.30,229.31 L580.63,227.54 L580.97,225.72 L581.31,223.91 L581.66,222.15 L582.00,220.50 L582.34,218.92 L582.69,217.38 L583.03,215.89 L583.37,214.48 L583.70,213.17 L584.00,212.00 L584.28,211.00 L584.54,210.15 L584.78,209.41 L585.02,208.73 L585.26,208.04 L585.50,207.30" fill="none" stroke="#ff6a6a" stroke-width="1.1"/>
<path d="M539.73,190.25 L540.41,190.23 L541.08,190.19 L541.75,190.16 L542.42,190.14 L543.09,190.13 L543.76,190.15 L544.43,190.18 L545.10,190.23 L545.77,190.29 L546.44,190.38 L547.11,190.50 L547.79,190.65 L548.44,190.83 L549.09,191.04 L549.73,191.28 L550.39,191.55 L551.08,191.88 L551.81,192.25 L552.59,192.69 L553.41,193.16 L554.26,193.69 L555.13,194.26 L555.99,194.89 L556.84,195.56 L557.72,196.34 L558.63,197.23 L559.55,198.18 L560.42,199.11 L561.21,199.96 L561.87,200.68 L562.38,201.24 L562.77,201.68 L563.07,202.05 L563.33,202.38 L563.59,202.71 L563.89,203.08 L564.39,204.18 L564.89,205.26 L565.40,206.33 L565.90,207.43 L566.40,208.58 L566.91,209.80 L567.42,211.12 L567.95,212.53 L568.48,213.98 L568.99,215.46 L569.48,216.91 L569.93,218.33 L570.32,219.63 L570.68,220.85 L571.01,222.05 L571.33,223.32 L571.63,224.73 L571.94,226.35 L572.25,228.23 L572.56,230.32 L572.86,232.55 L573.14,234.85 L573.41,237.15 L573.65,239.38 L573.86,241.59 L574.04,243.84 L574.20,246.09 L574.35,248.30 L574.50,250.42 L574.66,252.42 L574.83,254.26 L575.00,255.98 L575.17,257.62 L575.34,259.22 L575.51,260.81 L575.66,262.45 L575.81,264.17 L575.95,265.96 L576.09,267.75 L576.22,269.47 L576.35,271.07 L576.47,272.47 L576.58,273.77 L576.68,275.02 L576.77,276.15 L576.86,277.06 L576.96,277.67 L577.07,277.89 L577.19,277.67 L577.31,277.06 L577.44,276.15 L577.58,275.02 L577.72,273.77 L577.88,272.47 L578.04,271.07 L578.23,269.47 L578.42,267.75 L578.61,265.96 L578.80,264.17 L578.98,262.45 L579.16,260.78 L579.33,259.10 L579.50,257.43 L579.66,255.76 L579.83,254.09 L579.99,252.42 L580.14,250.73 L580.29,249.00 L580.44,247.28 L580.58,245.59 L580.73,243.95 L580.89,242.39 L581.07,240.93 L581.25,239.53 L581.44,238.19 L581.63,236.90 L581.82,235.63 L582.00,234.37 L582.18,233.14 L582.34,231.94 L582.51,230.77 L582.68,229.62 L582.84,228.48 L583.01,227.35 L583.18,226.24 L583.34,225.16 L583.51,224.09 L583.68,223.02 L583.85,221.94 L584.01,220.83 L584.18,219.69 L584.35,218.53 L584.52,217.35 L584.69,216.16 L584.85,214.98 L585.02,213.81 L585.19,212.65 L585.36,211.50 L585.52,210.35 L585.69,209.20 L585.86,208.05 L586.03,206.89" fill="none" stroke="#8080ff" stroke-width="1" opacity="0.85"/>
<path d="M539.73,190.25 L540.41,190.23 L541.08,190.19 L541.75,190.16 L542.42,190.14 L543.09,190.13 L543.76,190.15 L544.43,190.18 L545.10,190.23 L545.77,190.29 L546.44,190.38 L547.11,190.50 L547.79,190.65 L548.44,190.83 L549.09,191.04 L549.73,191.28 L550.39,191.55 L551.08,191.88 L551.81,192.25 L552.59,192.69 L553.41,193.16 L554.26,193.69 L555.13,194.26 L555.99,194.89 L556.84,195.56 L557.72,196.34 L558.63,197.23 L559.55,198.18 L560.42,199.11 L561.21,199.96 L561.87,200.68 L562.38,201.24 L562.77,201.68 L563.07,202.05 L563.33,202.38 L563.59,202.71 L563.89,203.08" fill="none" stroke="#5a2a9a" stroke-width="1.4" opacity="0.8"/>
<rect x="403.2" y="11" width="15.2" height="4.6" fill="#0000f0" stroke="#0000b0" stroke-width="0.5"/>
<rect x="403.2" y="19.6" width="15.2" height="4.4" fill="#ff8080" stroke="#a04848" stroke-width="0.8"/>
<text x="421.60" y="14.50" font-family="Liberation Serif" font-size="9.4" fill="#4040f0" font-style="italic" stroke="#4040f0" stroke-width="0.2" textLength="4.6" lengthAdjust="spacingAndGlyphs">η</text>
<text x="429.80" y="14.50" font-family="Liberation Serif" font-size="10" fill="#4040f0"  textLength="6.2" lengthAdjust="spacingAndGlyphs">=</text>
<text x="439.30" y="14.50" font-family="Liberation Serif" font-size="8.4" fill="#4040f0"  stroke="#4040f0" stroke-width="0.2" textLength="10" lengthAdjust="spacingAndGlyphs">90</text>
<text x="449.60" y="11.10" font-family="Liberation Serif" font-size="6" fill="#4040f0" font-style="italic" stroke="#4040f0" stroke-width="0.15" textLength="3.8" lengthAdjust="spacingAndGlyphs">o</text>
<text x="421.60" y="24.80" font-family="Liberation Serif" font-size="9.4" fill="#e0323f" font-style="italic" stroke="#e0323f" stroke-width="0.2" textLength="4.6" lengthAdjust="spacingAndGlyphs">η</text>
<text x="429.80" y="24.80" font-family="Liberation Serif" font-size="10" fill="#e0323f"  textLength="6.2" lengthAdjust="spacingAndGlyphs">=</text>
<text x="439.30" y="24.80" font-family="Liberation Serif" font-size="8.4" fill="#e0323f"  stroke="#e0323f" stroke-width="0.2" textLength="22.7" lengthAdjust="spacingAndGlyphs">78.38</text>
<text x="462.30" y="21.40" font-family="Liberation Serif" font-size="6" fill="#e0323f" font-style="italic" stroke="#e0323f" stroke-width="0.15" textLength="3.8" lengthAdjust="spacingAndGlyphs">o</text>
<text x="467.50" y="24.80" font-family="Liberation Serif" font-size="8.4" fill="#333" >.</text>
<rect x="407.2" y="191.4" width="15.2" height="4.6" fill="#0000f0" stroke="#0000b0" stroke-width="0.5"/>
<rect x="407.2" y="200.0" width="15.2" height="4.4" fill="#ff8080" stroke="#a04848" stroke-width="0.8"/>
<text x="425.60" y="195.80" font-family="Liberation Serif" font-size="9.4" fill="#4040f0" font-style="italic" stroke="#4040f0" stroke-width="0.2" textLength="4.6" lengthAdjust="spacingAndGlyphs">η</text>
<text x="433.80" y="195.80" font-family="Liberation Serif" font-size="10" fill="#4040f0"  textLength="6.2" lengthAdjust="spacingAndGlyphs">=</text>
<text x="443.50" y="195.80" font-family="Liberation Serif" font-size="8.4" fill="#4040f0"  stroke="#4040f0" stroke-width="0.2" textLength="10" lengthAdjust="spacingAndGlyphs">90</text>
<text x="453.80" y="192.40" font-family="Liberation Serif" font-size="6" fill="#4040f0" font-style="italic" stroke="#4040f0" stroke-width="0.15" textLength="3.8" lengthAdjust="spacingAndGlyphs">o</text>
<text x="425.60" y="203.70" font-family="Liberation Serif" font-size="9.4" fill="#e0323f" font-style="italic" stroke="#e0323f" stroke-width="0.2" textLength="4.6" lengthAdjust="spacingAndGlyphs">η</text>
<text x="433.80" y="203.70" font-family="Liberation Serif" font-size="10" fill="#e0323f"  textLength="6.2" lengthAdjust="spacingAndGlyphs">=</text>
<text x="443.50" y="203.70" font-family="Liberation Serif" font-size="8.4" fill="#e0323f"  stroke="#e0323f" stroke-width="0.2" textLength="22.6" lengthAdjust="spacingAndGlyphs">81.53</text>
<text x="466.40" y="200.30" font-family="Liberation Serif" font-size="6" fill="#e0323f" font-style="italic" stroke="#e0323f" stroke-width="0.15" textLength="3.8" lengthAdjust="spacingAndGlyphs">o</text>
<text x="471.60" y="203.70" font-family="Liberation Serif" font-size="8.4" fill="#333" >.</text>
<text x="404.80" y="46.20" font-family="Liberation Serif" font-size="16" fill="#111" font-weight="bold" textLength="19.2" lengthAdjust="spacingAndGlyphs">(b)</text>
<text x="403.30" y="228.50" font-family="Liberation Serif" font-size="16" fill="#111" font-weight="bold" textLength="17.9" lengthAdjust="spacingAndGlyphs">(c)</text>
<rect x="397" y="108.5" width="24.3" height="21.8" fill="none" stroke="#111" stroke-width="1.6"/>
<text x="400.95" y="123.90" font-family="Liberation Serif" font-size="14" fill="#111"  stroke="#111" stroke-width="0.05" textLength="16.4" lengthAdjust="spacingAndGlyphs">He</text>
<rect x="399.2" y="289.2" width="24.2" height="22" fill="none" stroke="#111" stroke-width="1.6"/>
<text x="403.10" y="304.60" font-family="Liberation Serif" font-size="14" fill="#111"  stroke="#111" stroke-width="0.05" textLength="16.4" lengthAdjust="spacingAndGlyphs">He</text>
<text x="457.00" y="127.40" font-family="Liberation Serif" font-size="10" fill="#1e1e1e" font-style="italic" stroke="#1e1e1e" stroke-width="0.22" textLength="5.6" lengthAdjust="spacingAndGlyphs">E</text>
<text x="462.20" y="129.40" font-family="Liberation Serif" font-size="7.5" fill="#1e1e1e" font-style="italic" stroke="#1e1e1e" stroke-width="0.22" textLength="6.6" lengthAdjust="spacingAndGlyphs">oi</text>
<text x="472.40" y="127.40" font-family="Liberation Serif" font-size="10" fill="#1e1e1e"  stroke="#1e1e1e" stroke-width="0.25" textLength="6" lengthAdjust="spacingAndGlyphs">=</text>
<text x="482.40" y="127.40" font-family="Liberation Serif" font-size="10" fill="#1e1e1e"  stroke="#1e1e1e" stroke-width="0.22" textLength="29.6" lengthAdjust="spacingAndGlyphs">10 keV;</text>
<text x="516.90" y="127.40" font-family="Liberation Serif" font-size="10" fill="#1e1e1e" font-style="italic" stroke="#1e1e1e" stroke-width="0.22" textLength="5.6" lengthAdjust="spacingAndGlyphs">E</text>
<text x="521.70" y="129.40" font-family="Liberation Serif" font-size="7.5" fill="#1e1e1e" font-style="italic" stroke="#1e1e1e" stroke-width="0.22" textLength="7.2" lengthAdjust="spacingAndGlyphs">os</text>
<text x="532.80" y="127.40" font-family="Liberation Serif" font-size="10" fill="#1e1e1e"  stroke="#1e1e1e" stroke-width="0.25" textLength="6.1" lengthAdjust="spacingAndGlyphs">=</text>
<text x="542.40" y="127.40" font-family="Liberation Serif" font-size="10" fill="#1e1e1e"  stroke="#1e1e1e" stroke-width="0.22" textLength="27.6" lengthAdjust="spacingAndGlyphs">15 keV</text>
<text x="461.30" y="308.40" font-family="Liberation Serif" font-size="10" fill="#1e1e1e" font-style="italic" stroke="#1e1e1e" stroke-width="0.22" textLength="5.6" lengthAdjust="spacingAndGlyphs">E</text>
<text x="466.50" y="310.40" font-family="Liberation Serif" font-size="7.5" fill="#1e1e1e" font-style="italic" stroke="#1e1e1e" stroke-width="0.22" textLength="6.6" lengthAdjust="spacingAndGlyphs">oi</text>
<text x="476.70" y="308.40" font-family="Liberation Serif" font-size="10" fill="#1e1e1e"  stroke="#1e1e1e" stroke-width="0.25" textLength="6" lengthAdjust="spacingAndGlyphs">=</text>
<text x="486.70" y="308.40" font-family="Liberation Serif" font-size="10" fill="#1e1e1e"  stroke="#1e1e1e" stroke-width="0.22" textLength="29.6" lengthAdjust="spacingAndGlyphs">10 keV;</text>
<text x="521.20" y="308.40" font-family="Liberation Serif" font-size="10" fill="#1e1e1e" font-style="italic" stroke="#1e1e1e" stroke-width="0.22" textLength="5.6" lengthAdjust="spacingAndGlyphs">E</text>
<text x="526.00" y="310.40" font-family="Liberation Serif" font-size="7.5" fill="#1e1e1e" font-style="italic" stroke="#1e1e1e" stroke-width="0.22" textLength="7.2" lengthAdjust="spacingAndGlyphs">os</text>
<text x="537.10" y="308.40" font-family="Liberation Serif" font-size="10" fill="#1e1e1e"  stroke="#1e1e1e" stroke-width="0.25" textLength="6.1" lengthAdjust="spacingAndGlyphs">=</text>
<text x="546.70" y="308.40" font-family="Liberation Serif" font-size="10" fill="#1e1e1e"  stroke="#1e1e1e" stroke-width="0.22" textLength="27.6" lengthAdjust="spacingAndGlyphs">15 keV</text>
<path d="M534.6,48.5V61.0" stroke="#222" stroke-width="1.1"/>
<text x="537.60" y="58.00" font-family="Liberation Serif" font-size="12.0" fill="#222"  stroke="#222" stroke-width="0.15" textLength="10.0" lengthAdjust="spacingAndGlyphs">Φ</text>
<text x="549.60" y="53.00" font-family="Liberation Serif" font-size="10.0" fill="#222"  stroke="#222" stroke-width="0.15" textLength="5.8" lengthAdjust="spacingAndGlyphs">±</text>
<text x="549.20" y="62.50" font-family="Liberation Serif" font-size="9.5" fill="#222" font-style="italic" stroke="#222" stroke-width="0.1" textLength="3.6" lengthAdjust="spacingAndGlyphs">l</text>
<path d="M557.6,46.0L561.1,54.25L557.6,62.5" stroke="#222" stroke-width="1.05" fill="none"/>
<path d="M533,224.5V237.5" stroke="#222" stroke-width="1.1"/>
<text x="536.00" y="235.00" font-family="Liberation Serif" font-size="12.0" fill="#222"  stroke="#222" stroke-width="0.15" textLength="10.0" lengthAdjust="spacingAndGlyphs">Φ</text>
<text x="548.00" y="230.00" font-family="Liberation Serif" font-size="10.0" fill="#222"  stroke="#222" stroke-width="0.15" textLength="5.8" lengthAdjust="spacingAndGlyphs">±</text>
<text x="547.60" y="239.50" font-family="Liberation Serif" font-size="9.5" fill="#222" font-style="italic" stroke="#222" stroke-width="0.1" textLength="3.6" lengthAdjust="spacingAndGlyphs">l</text>
<path d="M556.0,223.0L559.5,231.25L556.0,239.5" stroke="#222" stroke-width="1.05" fill="none"/>
<text x="389.00" y="164.40" font-family="Liberation Serif" font-size="14.3" fill="#111"  stroke="#111" stroke-width="0.15" textLength="95.8" lengthAdjust="spacingAndGlyphs">Compton angle (</text>
<text x="485.20" y="164.40" font-family="Liberation Serif" font-size="14.3" fill="#111" font-style="italic" stroke="#111" stroke-width="0.15" textLength="6.6" lengthAdjust="spacingAndGlyphs">θ</text>
<text x="492.30" y="167.40" font-family="Liberation Serif" font-size="9.5" fill="#111" font-style="italic" stroke="#111" stroke-width="0.15" textLength="3.2" lengthAdjust="spacingAndGlyphs">i</text>
<text x="499.80" y="164.40" font-family="Liberation Serif" font-size="14.3" fill="#111"  stroke="#111" stroke-width="0.4" textLength="8.1" lengthAdjust="spacingAndGlyphs">=</text>
<text x="512.00" y="164.40" font-family="Liberation Serif" font-size="14.3" fill="#111" font-style="italic" stroke="#111" stroke-width="0.15" textLength="6.6" lengthAdjust="spacingAndGlyphs">θ</text>
<text x="518.50" y="167.40" font-family="Liberation Serif" font-size="9.5" fill="#111" font-style="italic" stroke="#111" stroke-width="0.15" textLength="4.0" lengthAdjust="spacingAndGlyphs">s</text>
<text x="528.50" y="164.40" font-family="Liberation Serif" font-size="14.3" fill="#111"  stroke="#111" stroke-width="0.4" textLength="8.2" lengthAdjust="spacingAndGlyphs">=</text>
<text x="541.50" y="164.40" font-family="Liberation Serif" font-size="14.3" fill="#111" font-style="italic" stroke="#111" stroke-width="0.15" textLength="6.4" lengthAdjust="spacingAndGlyphs">θ</text>
<text x="548.80" y="164.40" font-family="Liberation Serif" font-size="14.3" fill="#111"  stroke="#111" stroke-width="0.15" textLength="4.0" lengthAdjust="spacingAndGlyphs">)</text>
<text x="558.10" y="164.40" font-family="Liberation Serif" font-size="14.3" fill="#111"  stroke="#111" stroke-width="0.15" textLength="30.8" lengthAdjust="spacingAndGlyphs">(deg.)</text>
<text x="387.40" y="346.60" font-family="Liberation Serif" font-size="14.3" fill="#111"  stroke="#111" stroke-width="0.15" textLength="95.8" lengthAdjust="spacingAndGlyphs">Compton angle (</text>
<text x="483.60" y="346.60" font-family="Liberation Serif" font-size="14.3" fill="#111" font-style="italic" stroke="#111" stroke-width="0.15" textLength="6.6" lengthAdjust="spacingAndGlyphs">θ</text>
<text x="490.70" y="349.60" font-family="Liberation Serif" font-size="9.5" fill="#111" font-style="italic" stroke="#111" stroke-width="0.15" textLength="3.2" lengthAdjust="spacingAndGlyphs">i</text>
<text x="498.20" y="346.60" font-family="Liberation Serif" font-size="14.3" fill="#111"  stroke="#111" stroke-width="0.4" textLength="8.1" lengthAdjust="spacingAndGlyphs">=</text>
<text x="510.40" y="346.60" font-family="Liberation Serif" font-size="14.3" fill="#111" font-style="italic" stroke="#111" stroke-width="0.15" textLength="6.6" lengthAdjust="spacingAndGlyphs">θ</text>
<text x="516.90" y="349.60" font-family="Liberation Serif" font-size="9.5" fill="#111" font-style="italic" stroke="#111" stroke-width="0.15" textLength="4.0" lengthAdjust="spacingAndGlyphs">s</text>
<text x="526.90" y="346.60" font-family="Liberation Serif" font-size="14.3" fill="#111"  stroke="#111" stroke-width="0.4" textLength="8.2" lengthAdjust="spacingAndGlyphs">=</text>
<text x="539.90" y="346.60" font-family="Liberation Serif" font-size="14.3" fill="#111" font-style="italic" stroke="#111" stroke-width="0.15" textLength="6.4" lengthAdjust="spacingAndGlyphs">θ</text>
<text x="547.20" y="346.60" font-family="Liberation Serif" font-size="14.3" fill="#111"  stroke="#111" stroke-width="0.15" textLength="4.0" lengthAdjust="spacingAndGlyphs">)</text>
<text x="556.50" y="346.60" font-family="Liberation Serif" font-size="14.3" fill="#111"  stroke="#111" stroke-width="0.15" textLength="30.8" lengthAdjust="spacingAndGlyphs">(deg.)</text>
<g transform="translate(356,124.9) rotate(-90)" font-family="Liberation Serif" fill="#1a1a1a" stroke="#1a1a1a" stroke-width="0.25"><text x="3.3" y="-4" font-size="8.5" textLength="3.2" lengthAdjust="spacingAndGlyphs">1</text><path d="M0,0H10" stroke-width="1.1"/><text x="0" y="9.9" font-size="10" font-style="italic" textLength="4.4" lengthAdjust="spacingAndGlyphs">r</text><text x="5.2" y="6.8" font-size="6.5" textLength="3.6" lengthAdjust="spacingAndGlyphs">4</text><text x="4.4" y="12.4" font-size="6.5" textLength="3.5" lengthAdjust="spacingAndGlyphs">0</text><path d="M12.9,0H51.6" stroke-width="1.1"/><text x="13.3" y="-4" font-size="10.5" font-style="italic" textLength="7.2" lengthAdjust="spacingAndGlyphs">d</text><text x="20.2" y="-8" font-size="6.5" textLength="3.2" lengthAdjust="spacingAndGlyphs">2</text><text x="23.4" y="-4" font-size="10.5" font-style="italic" textLength="6.5" lengthAdjust="spacingAndGlyphs">σ</text><text x="30" y="-1.5" font-size="7.5" font-style="italic" textLength="19" lengthAdjust="spacingAndGlyphs">incoh</text><text x="13.3" y="10" font-size="10.5" font-style="italic" textLength="7.4" lengthAdjust="spacingAndGlyphs">d</text><text x="21.4" y="10" font-size="10.5" textLength="6" lengthAdjust="spacingAndGlyphs">Ω</text><text x="27.9" y="12.3" font-size="6.5" textLength="2.4" lengthAdjust="spacingAndGlyphs">1</text><text x="30.6" y="10" font-size="10.5" font-style="italic" textLength="6.6" lengthAdjust="spacingAndGlyphs">d</text><text x="37.2" y="10" font-size="10.5" textLength="6.7" lengthAdjust="spacingAndGlyphs">Ω</text><text x="44.4" y="12.3" font-size="6.5" textLength="2.8" lengthAdjust="spacingAndGlyphs">2</text><text x="57.8" y="4.5" font-size="13.3" textLength="4" lengthAdjust="spacingAndGlyphs">(</text><text x="62.2" y="4.5" font-size="13.5" font-style="italic" textLength="5.6" lengthAdjust="spacingAndGlyphs">r</text><text x="67.6" y="8.2" font-size="8" textLength="4.2" lengthAdjust="spacingAndGlyphs">0</text><text x="68.6" y="-1.3" font-size="8" textLength="11.8" lengthAdjust="spacingAndGlyphs">−4</text><text x="80.6" y="4.5" font-size="12.5" textLength="6.4" lengthAdjust="spacingAndGlyphs">S</text><text x="87.6" y="4.5" font-size="12.5" textLength="4.2" lengthAdjust="spacingAndGlyphs">r</text><text x="92.4" y="-2" font-size="8" textLength="10.9" lengthAdjust="spacingAndGlyphs">−2</text><text x="106.4" y="4.5" font-size="13.3" textLength="4" lengthAdjust="spacingAndGlyphs">)</text></g>
<g transform="translate(355.4,306.6) rotate(-90)" font-family="Liberation Serif" fill="#1a1a1a" stroke="#1a1a1a" stroke-width="0.25"><text x="3.3" y="-4" font-size="8.5" textLength="3.2" lengthAdjust="spacingAndGlyphs">1</text><path d="M0,0H10" stroke-width="1.1"/><text x="0" y="9.9" font-size="10" font-style="italic" textLength="4.4" lengthAdjust="spacingAndGlyphs">r</text><text x="5.2" y="6.8" font-size="6.5" textLength="3.6" lengthAdjust="spacingAndGlyphs">4</text><text x="4.4" y="12.4" font-size="6.5" textLength="3.5" lengthAdjust="spacingAndGlyphs">0</text><path d="M12.9,0H51.6" stroke-width="1.1"/><text x="13.3" y="-4" font-size="10.5" font-style="italic" textLength="7.2" lengthAdjust="spacingAndGlyphs">d</text><text x="20.2" y="-8" font-size="6.5" textLength="3.2" lengthAdjust="spacingAndGlyphs">2</text><text x="23.4" y="-4" font-size="10.5" font-style="italic" textLength="6.5" lengthAdjust="spacingAndGlyphs">σ</text><text x="30" y="-1.5" font-size="7.5" font-style="italic" textLength="19" lengthAdjust="spacingAndGlyphs">incoh</text><text x="13.3" y="10" font-size="10.5" font-style="italic" textLength="7.4" lengthAdjust="spacingAndGlyphs">d</text><text x="21.4" y="10" font-size="10.5" textLength="6" lengthAdjust="spacingAndGlyphs">Ω</text><text x="27.9" y="12.3" font-size="6.5" textLength="2.4" lengthAdjust="spacingAndGlyphs">1</text><text x="30.6" y="10" font-size="10.5" font-style="italic" textLength="6.6" lengthAdjust="spacingAndGlyphs">d</text><text x="37.2" y="10" font-size="10.5" textLength="6.7" lengthAdjust="spacingAndGlyphs">Ω</text><text x="44.4" y="12.3" font-size="6.5" textLength="2.8" lengthAdjust="spacingAndGlyphs">2</text><text x="57.8" y="4.5" font-size="13.3" textLength="4" lengthAdjust="spacingAndGlyphs">(</text><text x="62.2" y="4.5" font-size="13.5" font-style="italic" textLength="5.6" lengthAdjust="spacingAndGlyphs">r</text><text x="67.6" y="8.2" font-size="8" textLength="4.2" lengthAdjust="spacingAndGlyphs">0</text><text x="68.6" y="-1.3" font-size="8" textLength="11.8" lengthAdjust="spacingAndGlyphs">−4</text><text x="80.6" y="4.5" font-size="12.5" textLength="6.4" lengthAdjust="spacingAndGlyphs">S</text><text x="87.6" y="4.5" font-size="12.5" textLength="4.2" lengthAdjust="spacingAndGlyphs">r</text><text x="92.4" y="-2" font-size="8" textLength="10.9" lengthAdjust="spacingAndGlyphs">−2</text><text x="106.4" y="4.5" font-size="13.3" textLength="4" lengthAdjust="spacingAndGlyphs">)</text></g>
</svg></body></html>
